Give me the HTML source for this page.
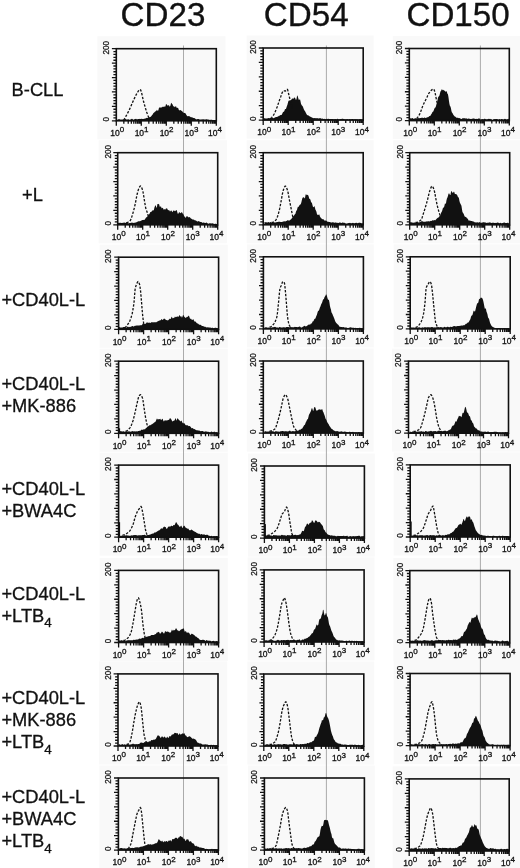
<!DOCTYPE html><html><head><meta charset="utf-8"><style>html,body{margin:0;padding:0;background:#fff;}svg{display:block;filter:blur(0.3px);}text{font-family:"Liberation Sans",sans-serif;fill:#111;}.hd{font-size:33.2px;stroke:#111;stroke-width:0.35px;}.rl{font-size:18.3px;stroke:#111;stroke-width:0.3px;}.yl{font-size:8.2px;stroke:#111;stroke-width:0.25px;}.xl{font-size:8.5px;stroke:#111;stroke-width:0.3px;}.sup{font-size:8px;}.sub{font-size:13.5px;}</style></head><body>
<svg width="520" height="868" viewBox="0 0 520 868">
<rect width="520" height="868" fill="#fff"/>
<text class="hd" x="163" y="25.6" text-anchor="middle">CD23</text>
<text class="hd" x="306.3" y="25.6" text-anchor="middle">CD54</text>
<text class="hd" x="458.1" y="25.6" text-anchor="middle">CD150</text>
<text class="rl" x="11.6" y="95.5">B-CLL</text>
<text class="rl" x="22.0" y="201.3">+L</text>
<text class="rl" x="1.4" y="305.7">+CD40L-L</text>
<text class="rl" x="1.4" y="389.6">+CD40L-L</text>
<text class="rl" x="1.4" y="411.6">+MK-886</text>
<text class="rl" x="1.4" y="494.5">+CD40L-L</text>
<text class="rl" x="1.4" y="516.5">+BWA4C</text>
<text class="rl" x="1.4" y="599.5">+CD40L-L</text>
<text class="rl" x="1.4" y="621.5">+LTB<tspan class="sub" dy="5.5">4</tspan></text>
<text class="rl" x="1.4" y="704.4">+CD40L-L</text>
<text class="rl" x="1.4" y="726.4">+MK-886</text>
<text class="rl" x="1.4" y="748.4">+LTB<tspan class="sub" dy="5.5">4</tspan></text>
<text class="rl" x="1.4" y="803.3">+CD40L-L</text>
<text class="rl" x="1.4" y="825.3">+BWA4C</text>
<text class="rl" x="1.4" y="847.3">+LTB<tspan class="sub" dy="5.5">4</tspan></text>
<rect x="97.3" y="36.2" width="128.2" height="103.1" fill="#f9f9f9"/>
<rect x="246.7" y="35.5" width="126.9" height="103.1" fill="#f9f9f9"/>
<rect x="392.8" y="36" width="127.2" height="103.1" fill="#f9f9f9"/>
<rect x="98.7" y="140.2" width="128.2" height="103.1" fill="#f9f9f9"/>
<rect x="246.7" y="140.2" width="126.9" height="103.1" fill="#f9f9f9"/>
<rect x="393.2" y="140.2" width="126.8" height="103.1" fill="#f9f9f9"/>
<rect x="99.6" y="244.7" width="128.2" height="103.1" fill="#f9f9f9"/>
<rect x="246.9" y="244.3" width="126.9" height="103.1" fill="#f9f9f9"/>
<rect x="393.7" y="244.3" width="126.3" height="103.1" fill="#f9f9f9"/>
<rect x="99.6" y="348.7" width="128.2" height="103.1" fill="#f9f9f9"/>
<rect x="246.8" y="348.5" width="126.9" height="103.1" fill="#f9f9f9"/>
<rect x="392" y="348.6" width="128" height="103.1" fill="#f9f9f9"/>
<rect x="99.6" y="452.6" width="128.2" height="103.1" fill="#f9f9f9"/>
<rect x="247.9" y="453.5" width="126.9" height="103.1" fill="#f9f9f9"/>
<rect x="393.7" y="452.4" width="126.3" height="103.1" fill="#f9f9f9"/>
<rect x="99.6" y="557.9" width="128.2" height="103.1" fill="#f9f9f9"/>
<rect x="247.6" y="557.4" width="126.9" height="103.1" fill="#f9f9f9"/>
<rect x="393.3" y="558.1" width="126.7" height="103.1" fill="#f9f9f9"/>
<rect x="99" y="661.4" width="128.2" height="103.1" fill="#f9f9f9"/>
<rect x="247.3" y="661.5" width="126.9" height="103.1" fill="#f9f9f9"/>
<rect x="393.6" y="661" width="126.4" height="103.1" fill="#f9f9f9"/>
<rect x="99.4" y="765.5" width="128.2" height="103.1" fill="#f9f9f9"/>
<rect x="247.9" y="765.5" width="126.9" height="103.1" fill="#f9f9f9"/>
<rect x="392.7" y="766.4" width="127.3" height="103.1" fill="#f9f9f9"/>
<line x1="183.5" y1="45.5" x2="183.5" y2="849" stroke="#ababab" stroke-width="1"/>
<line x1="326.4" y1="45.5" x2="326.4" y2="849" stroke="#ababab" stroke-width="1"/>
<line x1="480.4" y1="45.5" x2="480.4" y2="849" stroke="#ababab" stroke-width="1"/>
<g transform="translate(116.3,48.7)">
<path d="M0.14,72.1 L0.14,71.02 0.64,71.27 1.14,71.05 1.64,70.67 2.14,70.66 2.64,70.64 3.14,70.59 3.64,70.67 4.14,70.79 4.64,70.94 5.14,70.88 5.64,70.72 6.14,70.71 6.64,70.83 7.14,70.88 7.64,70.72 8.14,70.55 8.64,70.22 9.14,70.09 9.64,70.55 10.14,70.74 10.64,70.74 11.14,70.81 11.64,70.53 12.14,70.44 12.64,70.7 13.14,70.99 13.64,71.02 14.14,70.79 14.64,70.59 15.14,70.27 15.64,70.1 16.14,70.35 16.64,70.7 17.14,70.94 17.64,70.89 18.14,70.59 18.64,70.38 19.14,70.21 19.64,70.03 20.14,70.27 20.64,70.69 21.14,70.56 21.64,70.25 22.14,70.27 22.64,70.33 23.14,70.18 23.64,70.13 24.14,70.23 24.64,70.29 25.14,70.15 25.64,70.02 26.14,70.18 26.64,70.3 27.14,70.26 27.64,70.15 28.14,69.96 28.64,69.82 29.14,69.72 29.64,69.59 30.14,69.32 30.64,69.13 31.14,69.19 31.64,68.96 32.14,68.68 32.64,68.62 33.14,68.43 33.64,68.31 34.14,68.23 34.64,67.92 35.14,67.37 35.64,66.56 36.14,65.96 36.64,65.23 37.14,64.4 37.64,63.93 38.14,63.64 38.64,63.06 39.14,62.51 39.64,62.59 40.14,61.86 40.64,60.94 41.14,61.76 41.64,62.3 42.14,61.18 42.64,59.39 43.14,58.66 43.64,58.95 44.14,58.91 44.64,58.9 45.14,58.78 45.64,58.53 46.14,58.29 46.64,57.86 47.14,57.98 47.64,58.32 48.14,57.69 48.64,57.75 49.14,57.7 49.64,55.65 50.14,55.27 50.64,56.23 51.14,56.64 51.64,57.32 52.14,56.46 52.64,56.24 53.14,57.83 53.64,57.88 54.14,56.71 54.64,54.82 55.14,54.09 55.64,55.08 56.14,55.47 56.64,56.82 57.14,57.72 57.64,57.51 58.14,58.01 58.64,58.52 59.14,57.88 59.64,57.41 60.14,58.62 60.64,59.48 61.14,59 61.64,58.99 62.14,60.14 62.64,61.49 63.14,61.74 63.64,61.25 64.14,61.25 64.64,61.69 65.14,61.96 65.64,62.23 66.14,62.78 66.64,63.59 67.14,64.02 67.64,64.16 68.14,64.32 68.64,64.21 69.14,64.59 69.64,65.58 70.14,66.28 70.64,67 71.14,67.66 71.64,67.53 72.14,67.38 72.64,67.58 73.14,67.58 73.64,67.75 74.14,68.3 74.64,68.63 75.14,68.49 75.64,68.5 76.14,68.76 76.64,69.08 77.14,69.37 77.64,69.33 78.14,69.39 78.64,69.7 79.14,70.16 79.64,70.66 80.14,70.72 80.64,70.4 81.14,70.32 81.64,70.46 82.14,70.29 82.64,70.31 83.14,70.72 83.64,70.9 84.14,70.9 84.64,70.92 85.14,70.85 85.64,70.6 86.14,70.58 86.64,70.75 87.14,70.67 87.64,70.61 88.14,70.73 88.64,70.83 89.14,70.74 89.64,70.61 90.14,70.53 90.64,70.59 91.14,70.79 91.64,70.71 92.14,70.73 92.64,70.94 93.14,71.14 93.64,71.25 94.14,71.1 94.64,71.12 95.14,71.13 95.64,71.07 96.14,71.24 96.64,71.38 97.14,71.5 97.64,71.5 98.14,71.5 98.64,71.5 99.14,71.43 99.64,71.44 L99.64,72.1Z" fill="#111"/>
<polyline points="7.33,71.43 7.83,70.64 8.33,69.83 8.83,68.99 9.33,68.12 9.83,67.23 10.33,66.32 10.83,65.39 11.33,64.44 11.83,63.47 12.33,62.49 12.83,61.48 13.33,60.41 13.83,59.3 14.33,58.15 14.83,56.98 15.33,55.81 15.83,54.65 16.33,53.51 16.83,52.43 17.33,51.35 17.83,50.26 18.33,49.16 18.83,48.08 19.33,47.03 19.83,46.04 20.33,45.12 20.83,44.29 21.33,43.55 21.83,42.77 22.33,42.01 22.83,41.37 23.33,40.91 23.83,40.74 24.33,41.21 24.83,42.46 25.33,44.28 25.83,46.47 26.33,48.81 26.83,51.09 27.33,53.1 27.83,54.84 28.33,56.59 28.83,58.34 29.33,60.05 29.83,61.69 30.33,63.24 30.83,64.68 31.33,66.05 31.83,67.35 32.33,68.53 32.83,69.53 33.33,70.41 33.83,71.17" fill="none" stroke="#111" stroke-width="1.3" stroke-dasharray="2.4 1.5"/>
<rect x="0" y="0" width="100" height="72.1" fill="none" stroke="#111" stroke-width="1.6"/>
<path d="M-4.4,72.1H0 M-2.9,69.22H0 M-2.9,66.33H0 M-2.9,63.45H0 M-2.9,60.56H0 M-4.4,57.68H0 M-2.9,54.8H0 M-2.9,51.91H0 M-2.9,49.03H0 M-2.9,46.14H0 M-4.4,43.26H0 M-2.9,40.38H0 M-2.9,37.49H0 M-2.9,34.61H0 M-2.9,31.72H0 M-4.4,28.84H0 M-2.9,25.96H0 M-2.9,23.07H0 M-2.9,20.19H0 M-2.9,17.3H0 M-4.4,14.42H0 M-2.9,11.54H0 M-2.9,8.65H0 M-2.9,5.77H0 M-2.9,2.88H0 M-4.4,0H0" stroke="#111" stroke-width="1.3"/>
<path d="M0,72.1V77.1 M7.53,72.1V75.1 M11.93,72.1V75.1 M15.05,72.1V75.1 M17.47,72.1V75.1 M19.45,72.1V75.1 M21.13,72.1V75.1 M22.58,72.1V75.1 M23.86,72.1V75.1 M25,72.1V77.1 M32.53,72.1V75.1 M36.93,72.1V75.1 M40.05,72.1V75.1 M42.47,72.1V75.1 M44.45,72.1V75.1 M46.13,72.1V75.1 M47.58,72.1V75.1 M48.86,72.1V75.1 M50,72.1V77.1 M57.53,72.1V75.1 M61.93,72.1V75.1 M65.05,72.1V75.1 M67.47,72.1V75.1 M69.45,72.1V75.1 M71.13,72.1V75.1 M72.58,72.1V75.1 M73.86,72.1V75.1 M75,72.1V77.1 M82.53,72.1V75.1 M86.93,72.1V75.1 M90.05,72.1V75.1 M92.47,72.1V75.1 M94.45,72.1V75.1 M96.13,72.1V75.1 M97.58,72.1V75.1 M98.86,72.1V75.1 M100,72.1V77.1" stroke="#111" stroke-width="1.3"/>
<text class="yl" transform="translate(-7.2,-1) rotate(-90)" text-anchor="middle">200</text>
<text class="yl" transform="translate(-7.2,70.6) rotate(-90)" text-anchor="middle">0</text>
<text class="xl" x="1" y="87.4" text-anchor="middle">10<tspan class="sup" dy="-3.9">0</tspan></text>
<text class="xl" x="25.3" y="87.4" text-anchor="middle">10<tspan class="sup" dy="-3.9">1</tspan></text>
<text class="xl" x="50.3" y="87.4" text-anchor="middle">10<tspan class="sup" dy="-3.9">2</tspan></text>
<text class="xl" x="75.1" y="87.4" text-anchor="middle">10<tspan class="sup" dy="-3.9">3</tspan></text>
<text class="xl" x="98.7" y="87.4" text-anchor="middle">10<tspan class="sup" dy="-3.9">4</tspan></text>
</g>
<g transform="translate(263.2,48)">
<path d="M0.24,72.1 L0.24,70.24 0.74,70.33 1.24,70.34 1.74,70.29 2.24,70.51 2.74,70.5 3.24,70.4 3.74,70.53 4.24,70.44 4.74,70.07 5.24,70.03 5.74,70.29 6.24,70.33 6.74,70.1 7.24,69.96 7.74,69.96 8.24,70.08 8.74,70.06 9.24,69.94 9.74,70.11 10.24,70.14 10.74,69.98 11.24,69.76 11.74,69.43 12.24,69.18 12.74,69.01 13.24,69 13.74,68.94 14.24,68.65 14.74,68.39 15.24,68.14 15.74,67.86 16.24,67.69 16.74,67.45 17.24,67.09 17.74,67.08 18.24,67.09 18.74,66.38 19.24,65.2 19.74,64.13 20.24,63.84 20.74,63.86 21.24,62.68 21.74,61.19 22.24,61.11 22.74,61.04 23.24,59.52 23.74,57.99 24.24,56.64 24.74,54.65 25.24,53.06 25.74,52.55 26.24,52.6 26.74,52.78 27.24,52.8 27.74,52.21 28.24,51.61 28.74,50.85 29.24,50.34 29.74,50.98 30.24,50.68 30.74,49.73 31.24,49.56 31.74,49.72 32.24,50.72 32.74,52.08 33.24,51.34 33.74,48.39 34.24,47.36 34.74,48.92 35.24,50.81 35.74,52.26 36.24,51.8 36.74,51.03 37.24,53.05 37.74,55.59 38.24,56.76 38.74,57.53 39.24,58 39.74,58.87 40.24,60.29 40.74,61.52 41.24,62.41 41.74,63.07 42.24,63.89 42.74,64.98 43.24,65.95 43.74,66.77 44.24,67.23 44.74,67.3 45.24,67.39 45.74,67.75 46.24,68.23 46.74,68.5 47.24,68.69 47.74,68.92 48.24,69.2 48.74,69.51 49.24,69.77 49.74,70.07 50.24,70.22 50.74,70.11 51.24,69.99 51.74,70.17 52.24,70.28 52.74,70.12 53.24,70.15 53.74,70.17 54.24,70.12 54.74,70.38 55.24,70.5 55.74,70.37 56.24,70.31 56.74,70.25 57.24,70.22 57.74,70.34 58.24,70.68 58.74,70.8 59.24,70.62 59.74,70.68 60.24,71.1 60.74,71.1 61.24,70.77 61.74,71.06 62.24,71.33 62.74,71.01 63.24,70.8 63.74,70.96 64.24,70.92 64.74,70.69 65.24,70.71 65.74,71.01 66.24,71.1 66.74,70.97 67.24,70.9 67.74,70.88 68.24,71.03 68.74,71.05 69.24,70.95 69.74,71.04 70.24,71.22 70.74,71.28 71.24,71.19 71.74,71.1 72.24,71.1 72.74,71.17 73.24,71.19 73.74,71.15 74.24,70.81 74.74,70.65 75.24,71.22 75.74,71.5 76.24,71.33 76.74,71.07 77.24,71.01 77.74,71.03 78.24,70.95 78.74,70.81 79.24,70.78 79.74,70.86 80.24,71 80.74,71.1 81.24,71.13 81.74,71.19 82.24,71.28 82.74,71.43 83.24,71.35 83.74,70.89 84.24,70.88 84.74,71.45 85.24,71.5 85.74,71.3 86.24,71.07 86.74,71.2 87.24,71.31 87.74,71.25 88.24,71.19 88.74,71 89.24,70.88 89.74,71.11 90.24,71.37 90.74,71.4 91.24,71.17 91.74,71.05 92.24,71.19 92.74,71.25 93.24,71.19 93.74,71.25 94.24,71.37 94.74,71.49 95.24,71.5 95.74,71.5 96.24,71.21 96.74,70.94 97.24,71.13 97.74,71.34 98.24,71.42 98.74,71.37 99.24,71.23 99.74,71.2 L99.74,72.1Z" fill="#111"/>
<polyline points="7.43,70.5 7.93,70.1 8.43,69.6 8.93,69.03 9.43,68.39 9.93,67.69 10.43,66.93 10.93,66.04 11.43,65.04 11.93,63.94 12.43,62.78 12.93,61.58 13.43,60.36 13.93,59.06 14.43,57.64 14.93,56.16 15.43,54.65 15.93,53.15 16.43,51.7 16.93,50.34 17.43,49.06 17.93,47.63 18.43,46.17 18.93,44.81 19.43,43.7 19.93,42.97 20.43,42.77 20.93,42.83 21.43,42.92 21.93,42.98 22.43,42.82 22.93,42.32 23.43,41.74 23.93,41.34 24.43,41.68 24.93,43.6 25.43,45.81 25.93,47.87 26.43,50.01 26.93,51.96 27.43,53.73 27.93,55.6 28.43,57.77 28.93,60.15" fill="none" stroke="#111" stroke-width="1.3" stroke-dasharray="2.4 1.5"/>
<rect x="0" y="0" width="100" height="72.1" fill="none" stroke="#111" stroke-width="1.6"/>
<path d="M-4.4,72.1H0 M-2.9,69.22H0 M-2.9,66.33H0 M-2.9,63.45H0 M-2.9,60.56H0 M-4.4,57.68H0 M-2.9,54.8H0 M-2.9,51.91H0 M-2.9,49.03H0 M-2.9,46.14H0 M-4.4,43.26H0 M-2.9,40.38H0 M-2.9,37.49H0 M-2.9,34.61H0 M-2.9,31.72H0 M-4.4,28.84H0 M-2.9,25.96H0 M-2.9,23.07H0 M-2.9,20.19H0 M-2.9,17.3H0 M-4.4,14.42H0 M-2.9,11.54H0 M-2.9,8.65H0 M-2.9,5.77H0 M-2.9,2.88H0 M-4.4,0H0" stroke="#111" stroke-width="1.3"/>
<path d="M0,72.1V77.1 M7.53,72.1V75.1 M11.93,72.1V75.1 M15.05,72.1V75.1 M17.47,72.1V75.1 M19.45,72.1V75.1 M21.13,72.1V75.1 M22.58,72.1V75.1 M23.86,72.1V75.1 M25,72.1V77.1 M32.53,72.1V75.1 M36.93,72.1V75.1 M40.05,72.1V75.1 M42.47,72.1V75.1 M44.45,72.1V75.1 M46.13,72.1V75.1 M47.58,72.1V75.1 M48.86,72.1V75.1 M50,72.1V77.1 M57.53,72.1V75.1 M61.93,72.1V75.1 M65.05,72.1V75.1 M67.47,72.1V75.1 M69.45,72.1V75.1 M71.13,72.1V75.1 M72.58,72.1V75.1 M73.86,72.1V75.1 M75,72.1V77.1 M82.53,72.1V75.1 M86.93,72.1V75.1 M90.05,72.1V75.1 M92.47,72.1V75.1 M94.45,72.1V75.1 M96.13,72.1V75.1 M97.58,72.1V75.1 M98.86,72.1V75.1 M100,72.1V77.1" stroke="#111" stroke-width="1.3"/>
<text class="yl" transform="translate(-7.2,-1) rotate(-90)" text-anchor="middle">200</text>
<text class="yl" transform="translate(-7.2,70.6) rotate(-90)" text-anchor="middle">0</text>
<text class="xl" x="1" y="87.4" text-anchor="middle">10<tspan class="sup" dy="-3.9">0</tspan></text>
<text class="xl" x="25.3" y="87.4" text-anchor="middle">10<tspan class="sup" dy="-3.9">1</tspan></text>
<text class="xl" x="50.3" y="87.4" text-anchor="middle">10<tspan class="sup" dy="-3.9">2</tspan></text>
<text class="xl" x="75.1" y="87.4" text-anchor="middle">10<tspan class="sup" dy="-3.9">3</tspan></text>
<text class="xl" x="98.7" y="87.4" text-anchor="middle">10<tspan class="sup" dy="-3.9">4</tspan></text>
</g>
<g transform="translate(409.3,48.5)">
<path d="M0.14,72.1 L0.14,69.75 0.64,69.94 1.14,69.73 1.64,69.71 2.14,69.88 2.64,69.69 3.14,69.57 3.64,69.74 4.14,70.18 4.64,70.42 5.14,70.04 5.64,69.75 6.14,69.83 6.64,69.81 7.14,69.9 7.64,69.98 8.14,69.78 8.64,69.64 9.14,69.59 9.64,69.65 10.14,69.66 10.64,69.49 11.14,69.48 11.64,69.5 12.14,69.35 12.64,69.16 13.14,69.15 13.64,69.31 14.14,69.6 14.64,69.56 15.14,69.1 15.64,69.09 16.14,69.39 16.64,69.43 17.14,69.14 17.64,68.77 18.14,68.73 18.64,68.69 19.14,68.52 19.64,68.09 20.14,67.59 20.64,67.6 21.14,67.23 21.64,66.2 22.14,65.51 22.64,64.66 23.14,63.62 23.64,63.23 24.14,62.73 24.64,61.33 25.14,60.03 25.64,59.32 26.14,58.93 26.64,57.83 27.14,55.77 27.64,54.44 28.14,52.19 28.64,49.14 29.14,48.14 29.64,47.81 30.14,46.98 30.64,45.06 31.14,42.89 31.64,42.51 32.14,41.58 32.64,40.59 33.14,41.55 33.64,41.68 34.14,41.25 34.64,41.88 35.14,42.27 35.64,42.19 36.14,43.08 36.64,43.46 37.14,42.29 37.64,43.64 38.14,45.18 38.64,45.79 39.14,48.57 39.64,52.18 40.14,55.46 40.64,57.42 41.14,57.93 41.64,59.68 42.14,62.59 42.64,63.97 43.14,64.46 43.64,65.43 44.14,66.38 44.64,66.99 45.14,67.63 45.64,68.01 46.14,68.23 46.64,68.79 47.14,69.15 47.64,69.29 48.14,69.3 48.64,69.22 49.14,69.59 49.64,69.73 50.14,69.6 50.64,69.76 51.14,70.1 51.64,70.55 52.14,70.59 52.64,70.18 53.14,69.86 53.64,69.82 54.14,69.87 54.64,69.83 55.14,69.79 55.64,69.86 56.14,69.94 56.64,69.92 57.14,69.86 57.64,70.14 58.14,70.41 58.64,70.03 59.14,69.89 59.64,70.15 60.14,70.23 60.64,70.34 61.14,70.54 61.64,70.62 62.14,70.42 62.64,70.25 63.14,70.23 63.64,70.05 64.14,70.07 64.64,70.11 65.14,70.13 65.64,70.32 66.14,70.46 66.64,70.39 67.14,70.26 67.64,70.44 68.14,70.56 68.64,70.33 69.14,70.12 69.64,70.08 70.14,69.9 70.64,70.19 71.14,70.94 71.64,71.1 72.14,70.83 72.64,70.61 73.14,70.62 73.64,70.72 74.14,70.65 74.64,70.52 75.14,70.25 75.64,70.14 76.14,70.46 76.64,70.75 77.14,70.74 77.64,70.73 78.14,70.78 78.64,70.49 79.14,70.35 79.64,70.55 80.14,70.43 80.64,70.28 81.14,70.53 81.64,70.73 82.14,70.73 82.64,71.07 83.14,71.47 83.64,71.26 84.14,70.76 84.64,70.39 85.14,70.54 85.64,70.73 86.14,70.51 86.64,70.43 87.14,70.56 87.64,70.52 88.14,70.57 88.64,70.89 89.14,71 89.64,70.75 90.14,70.6 90.64,70.75 91.14,70.88 91.64,70.68 92.14,70.38 92.64,70.46 93.14,70.72 93.64,70.86 94.14,70.94 94.64,70.75 95.14,70.42 95.64,70.28 96.14,70.5 96.64,70.87 97.14,70.89 97.64,70.85 98.14,70.85 98.64,70.56 99.14,70.35 99.64,70.43 L99.64,72.1Z" fill="#111"/>
<polyline points="7.33,70 7.83,69.5 8.33,68.9 8.83,68.21 9.33,67.43 9.83,66.57 10.33,65.67 10.83,64.66 11.33,63.42 11.83,62.03 12.33,60.55 12.83,59.09 13.33,57.72 13.83,56.53 14.33,55.45 14.83,54.43 15.33,53.46 15.83,52.5 16.33,51.55 16.83,50.56 17.33,49.52 17.83,48.4 18.33,47.27 18.83,46.2 19.33,45.23 19.83,44.43 20.33,43.8 20.83,43.19 21.33,42.6 21.83,42.05 22.33,41.55 22.83,41.14 23.33,40.83 23.83,40.63 24.33,40.59 24.83,41.34 25.33,42.82 25.83,44.52 26.33,46.93 26.83,49.67 27.33,52.02 27.83,54.21 28.33,56.27" fill="none" stroke="#111" stroke-width="1.3" stroke-dasharray="2.4 1.5"/>
<rect x="0" y="0" width="100" height="72.1" fill="none" stroke="#111" stroke-width="1.6"/>
<path d="M-4.4,72.1H0 M-2.9,69.22H0 M-2.9,66.33H0 M-2.9,63.45H0 M-2.9,60.56H0 M-4.4,57.68H0 M-2.9,54.8H0 M-2.9,51.91H0 M-2.9,49.03H0 M-2.9,46.14H0 M-4.4,43.26H0 M-2.9,40.38H0 M-2.9,37.49H0 M-2.9,34.61H0 M-2.9,31.72H0 M-4.4,28.84H0 M-2.9,25.96H0 M-2.9,23.07H0 M-2.9,20.19H0 M-2.9,17.3H0 M-4.4,14.42H0 M-2.9,11.54H0 M-2.9,8.65H0 M-2.9,5.77H0 M-2.9,2.88H0 M-4.4,0H0" stroke="#111" stroke-width="1.3"/>
<path d="M0,72.1V77.1 M7.53,72.1V75.1 M11.93,72.1V75.1 M15.05,72.1V75.1 M17.47,72.1V75.1 M19.45,72.1V75.1 M21.13,72.1V75.1 M22.58,72.1V75.1 M23.86,72.1V75.1 M25,72.1V77.1 M32.53,72.1V75.1 M36.93,72.1V75.1 M40.05,72.1V75.1 M42.47,72.1V75.1 M44.45,72.1V75.1 M46.13,72.1V75.1 M47.58,72.1V75.1 M48.86,72.1V75.1 M50,72.1V77.1 M57.53,72.1V75.1 M61.93,72.1V75.1 M65.05,72.1V75.1 M67.47,72.1V75.1 M69.45,72.1V75.1 M71.13,72.1V75.1 M72.58,72.1V75.1 M73.86,72.1V75.1 M75,72.1V77.1 M82.53,72.1V75.1 M86.93,72.1V75.1 M90.05,72.1V75.1 M92.47,72.1V75.1 M94.45,72.1V75.1 M96.13,72.1V75.1 M97.58,72.1V75.1 M98.86,72.1V75.1 M100,72.1V77.1" stroke="#111" stroke-width="1.3"/>
<text class="yl" transform="translate(-7.2,-1) rotate(-90)" text-anchor="middle">200</text>
<text class="yl" transform="translate(-7.2,70.6) rotate(-90)" text-anchor="middle">0</text>
<text class="xl" x="1" y="87.4" text-anchor="middle">10<tspan class="sup" dy="-3.9">0</tspan></text>
<text class="xl" x="25.3" y="87.4" text-anchor="middle">10<tspan class="sup" dy="-3.9">1</tspan></text>
<text class="xl" x="50.3" y="87.4" text-anchor="middle">10<tspan class="sup" dy="-3.9">2</tspan></text>
<text class="xl" x="75.1" y="87.4" text-anchor="middle">10<tspan class="sup" dy="-3.9">3</tspan></text>
<text class="xl" x="98.7" y="87.4" text-anchor="middle">10<tspan class="sup" dy="-3.9">4</tspan></text>
</g>
<g transform="translate(117.7,152.7)">
<path d="M-0.26,72.1 L-0.26,69.94 0.24,70.07 0.74,70.21 1.24,70.11 1.74,70.15 2.24,70.2 2.74,70.15 3.24,70.16 3.74,70.33 4.24,70.33 4.74,70.18 5.24,70.27 5.74,70.32 6.24,70.14 6.74,69.97 7.24,70.19 7.74,70.31 8.24,69.87 8.74,69.47 9.24,69.62 9.74,70.21 10.24,70.67 10.74,70.67 11.24,70.5 11.74,70.37 12.24,70.3 12.74,70.18 13.24,70.1 13.74,69.98 14.24,69.89 14.74,69.93 15.24,70.03 15.74,70.19 16.24,70.15 16.74,70 17.24,69.97 17.74,69.92 18.24,69.7 18.74,69.54 19.24,69.27 19.74,68.94 20.24,68.78 20.74,68.66 21.24,68.57 21.74,68.5 22.24,68.46 22.74,68.33 23.24,68.04 23.74,67.82 24.24,67.6 24.74,67.36 25.24,67.36 25.74,67.23 26.24,67.13 26.74,67.21 27.24,66.66 27.74,65.69 28.24,65.01 28.74,64.46 29.24,64.18 29.74,63.89 30.24,63.01 30.74,62.16 31.24,61.91 31.74,61.37 32.24,60.02 32.74,59.26 33.24,59.19 33.74,58.94 34.24,58.3 34.74,57.68 35.24,57.47 35.74,57.7 36.24,56.98 36.74,54.78 37.24,53.59 37.74,52.65 38.24,52.96 38.74,55.23 39.24,54.27 39.74,51.32 40.24,51.34 40.74,51.57 41.24,51.03 41.74,52.72 42.24,54.49 42.74,53.87 43.24,53.47 43.74,55.15 44.24,55.86 44.74,55.13 45.24,55.25 45.74,56.52 46.24,56.93 46.74,56.31 47.24,56.74 47.74,56.68 48.24,55.82 48.74,55.8 49.24,55.62 49.74,56.3 50.24,57.62 50.74,57.66 51.24,57.34 51.74,57.8 52.24,58.68 52.74,58.48 53.24,57.76 53.74,57.77 54.24,58.71 54.74,59.45 55.24,58.43 55.74,57.68 56.24,57.88 56.74,58.11 57.24,58.63 57.74,58.33 58.24,57.47 58.74,57.3 59.24,58.04 59.74,60 60.24,61.38 60.74,60.69 61.24,59.82 61.74,59.63 62.24,59.84 62.74,60.48 63.24,60.39 63.74,59.65 64.24,59.43 64.74,60.33 65.24,61.24 65.74,61.63 66.24,62.76 66.74,63.9 67.24,64.36 67.74,64.95 68.24,64.87 68.74,63.86 69.24,63.39 69.74,63.7 70.24,64.05 70.74,64.66 71.24,64.89 71.74,64.34 72.24,64.45 72.74,65.27 73.24,65.86 73.74,66.05 74.24,66.37 74.74,66.8 75.24,66.85 75.74,66.82 76.24,66.95 76.74,67.21 77.24,67.72 77.74,67.75 78.24,67.64 78.74,68.2 79.24,68.61 79.74,68.77 80.24,68.72 80.74,68.42 81.24,68.56 81.74,68.9 82.24,69.11 82.74,69.29 83.24,69.23 83.74,69.24 84.24,69.7 84.74,70.04 85.24,69.95 85.74,69.77 86.24,69.88 86.74,70.15 87.24,70.34 87.74,70.35 88.24,70.1 88.74,69.89 89.24,70.09 89.74,70.45 90.24,70.79 90.74,70.94 91.24,70.74 91.74,70.57 92.24,70.53 92.74,70.6 93.24,70.81 93.74,70.83 94.24,70.65 94.74,70.57 95.24,70.68 95.74,70.92 96.24,71.22 96.74,71.18 97.24,71.03 97.74,71.14 98.24,71.12 98.74,71.23 99.24,71.33 L99.24,72.1Z" fill="#111"/>
<polyline points="4.82,70.8 5.32,70.79 5.82,70.75 6.32,70.69 6.82,70.61 7.32,70.5 7.82,70.37 8.32,70.22 8.82,70.05 9.32,69.85 9.82,69.63 10.32,69.39 10.82,69.12 11.32,68.83 11.82,68.52 12.32,68.18 12.82,67.5 13.32,66.41 13.82,65.01 14.32,63.42 14.82,61.72 15.32,60.04 15.82,58.33 16.32,56.42 16.82,54.35 17.32,52.18 17.82,49.86 18.32,47.22 18.82,44.5 19.32,42.02 19.82,40.02 20.32,38.19 20.82,36.53 21.32,35.19 21.82,34.29 22.32,33.62 22.82,33.34 23.32,33.69 23.82,34.57 24.32,35.83 24.82,37.28 25.32,39.23 25.82,42.13 26.32,45.35 26.82,48.35 27.32,51.49 27.82,54.36 28.32,56.36 28.82,57.76 29.32,59.05 29.82,60.65 30.32,62.59 30.82,64.58 31.32,66.32 31.82,67.84 32.32,69.24 32.82,70.49" fill="none" stroke="#111" stroke-width="1.3" stroke-dasharray="2.4 1.5"/>
<rect x="0" y="0" width="100" height="72.1" fill="none" stroke="#111" stroke-width="1.6"/>
<path d="M-4.4,72.1H0 M-2.9,69.22H0 M-2.9,66.33H0 M-2.9,63.45H0 M-2.9,60.56H0 M-4.4,57.68H0 M-2.9,54.8H0 M-2.9,51.91H0 M-2.9,49.03H0 M-2.9,46.14H0 M-4.4,43.26H0 M-2.9,40.38H0 M-2.9,37.49H0 M-2.9,34.61H0 M-2.9,31.72H0 M-4.4,28.84H0 M-2.9,25.96H0 M-2.9,23.07H0 M-2.9,20.19H0 M-2.9,17.3H0 M-4.4,14.42H0 M-2.9,11.54H0 M-2.9,8.65H0 M-2.9,5.77H0 M-2.9,2.88H0 M-4.4,0H0" stroke="#111" stroke-width="1.3"/>
<path d="M0,72.1V77.1 M7.53,72.1V75.1 M11.93,72.1V75.1 M15.05,72.1V75.1 M17.47,72.1V75.1 M19.45,72.1V75.1 M21.13,72.1V75.1 M22.58,72.1V75.1 M23.86,72.1V75.1 M25,72.1V77.1 M32.53,72.1V75.1 M36.93,72.1V75.1 M40.05,72.1V75.1 M42.47,72.1V75.1 M44.45,72.1V75.1 M46.13,72.1V75.1 M47.58,72.1V75.1 M48.86,72.1V75.1 M50,72.1V77.1 M57.53,72.1V75.1 M61.93,72.1V75.1 M65.05,72.1V75.1 M67.47,72.1V75.1 M69.45,72.1V75.1 M71.13,72.1V75.1 M72.58,72.1V75.1 M73.86,72.1V75.1 M75,72.1V77.1 M82.53,72.1V75.1 M86.93,72.1V75.1 M90.05,72.1V75.1 M92.47,72.1V75.1 M94.45,72.1V75.1 M96.13,72.1V75.1 M97.58,72.1V75.1 M98.86,72.1V75.1 M100,72.1V77.1" stroke="#111" stroke-width="1.3"/>
<text class="yl" transform="translate(-7.2,-1) rotate(-90)" text-anchor="middle">200</text>
<text class="yl" transform="translate(-7.2,70.6) rotate(-90)" text-anchor="middle">0</text>
<text class="xl" x="1" y="87.4" text-anchor="middle">10<tspan class="sup" dy="-3.9">0</tspan></text>
<text class="xl" x="25.3" y="87.4" text-anchor="middle">10<tspan class="sup" dy="-3.9">1</tspan></text>
<text class="xl" x="50.3" y="87.4" text-anchor="middle">10<tspan class="sup" dy="-3.9">2</tspan></text>
<text class="xl" x="75.1" y="87.4" text-anchor="middle">10<tspan class="sup" dy="-3.9">3</tspan></text>
<text class="xl" x="98.7" y="87.4" text-anchor="middle">10<tspan class="sup" dy="-3.9">4</tspan></text>
</g>
<g transform="translate(263.2,152.7)">
<path d="M1.24,72.1 L1.24,69.43 1.74,69.25 2.24,69.5 2.74,69.66 3.24,69.66 3.74,69.8 4.24,69.75 4.74,69.48 5.24,69.4 5.74,69.59 6.24,69.82 6.74,69.71 7.24,69.35 7.74,69.37 8.24,69.79 8.74,69.95 9.24,69.65 9.74,69.52 10.24,69.64 10.74,69.62 11.24,69.74 11.74,69.88 12.24,69.71 12.74,69.56 13.24,69.48 13.74,69.3 14.24,69.2 14.74,69.18 15.24,69.16 15.74,69.15 16.24,69.13 16.74,69.14 17.24,69.18 17.74,69.2 18.24,69.31 18.74,69.22 19.24,69 19.74,69.06 20.24,68.89 20.74,68.6 21.24,68.65 21.74,68.81 22.24,68.71 22.74,68.41 23.24,68.32 23.74,68.1 24.24,67.61 24.74,67.53 25.24,67.81 25.74,67.91 26.24,67.76 26.74,67.43 27.24,66.98 27.74,66.66 28.24,66.2 28.74,65.29 29.24,64.69 29.74,64.02 30.24,63.24 30.74,62.95 31.24,61.99 31.74,61.49 32.24,61.16 32.74,58.98 33.24,57.76 33.74,57.44 34.24,55.37 34.74,54.1 35.24,54.2 35.74,53.63 36.24,52.63 36.74,52.05 37.24,51.92 37.74,51.13 38.24,49.23 38.74,47.11 39.24,45.25 39.74,44.72 40.24,44.85 40.74,44.34 41.24,45.52 41.74,45.66 42.24,42.84 42.74,41.37 43.24,42.03 43.74,42.44 44.24,41.98 44.74,42.22 45.24,43.11 45.74,44.85 46.24,46.3 46.74,46.21 47.24,47.15 47.74,49.16 48.24,49.86 48.74,50.3 49.24,52.28 49.74,53.94 50.24,54.53 50.74,53.99 51.24,53.38 51.74,55.01 52.24,57.14 52.74,57.86 53.24,59.02 53.74,61.21 54.24,62.11 54.74,62.24 55.24,62.39 55.74,61.62 56.24,62.08 56.74,63.76 57.24,64.63 57.74,65.22 58.24,65.7 58.74,66.02 59.24,66.45 59.74,66.48 60.24,66.48 60.74,67.01 61.24,67.68 61.74,67.93 62.24,67.79 62.74,67.89 63.24,68.17 63.74,68.57 64.24,69.01 64.74,69.05 65.24,69 65.74,69.24 66.24,69.37 66.74,69.26 67.24,69.47 67.74,69.89 68.24,69.92 68.74,69.71 69.24,69.63 69.74,69.57 70.24,69.62 70.74,69.95 71.24,70.09 71.74,69.89 72.24,69.68 72.74,69.79 73.24,70.07 73.74,70.08 74.24,70.03 74.74,70.2 75.24,70.24 75.74,70 76.24,69.86 76.74,69.8 77.24,69.91 77.74,70.23 78.24,70.36 78.74,70.17 79.24,69.89 79.74,69.88 80.24,70.05 80.74,70.14 81.24,70.14 81.74,70.18 82.24,70.47 82.74,70.8 83.24,70.88 83.74,70.73 84.24,70.53 84.74,70.44 85.24,70.4 85.74,70.41 86.24,70.29 86.74,70.14 87.24,70.23 87.74,70.44 88.24,70.48 88.74,70.31 89.24,70.18 89.74,70.15 90.24,70.25 90.74,70.51 91.24,70.51 91.74,70.4 92.24,70.24 92.74,69.96 93.24,69.99 93.74,70.41 94.24,70.58 94.74,70.28 95.24,70.17 95.74,70.18 96.24,69.94 96.74,69.91 97.24,70.18 97.74,70.34 98.24,70.49 98.74,70.67 99.24,70.58 99.74,70.63 100.24,70.93 100.74,70.75 L100.74,72.1Z" fill="#111"/>
<polyline points="8.43,69.8 8.93,69.75 9.43,69.62 9.93,69.41 10.43,69.14 10.93,68.8 11.43,68.4 11.93,67.96 12.43,67.49 12.93,66.93 13.43,66.06 13.93,64.9 14.43,63.5 14.93,61.92 15.43,60.22 15.93,58.44 16.43,56.26 16.93,53.68 17.43,50.95 17.93,48.31 18.43,45.62 18.93,42.78 19.43,40.14 19.93,38.05 20.43,36.58 20.93,35.22 21.43,34.12 21.93,33.48 22.43,33.48 22.93,34.12 23.43,35.22 23.93,36.58 24.43,38.05 24.93,40.14 25.43,42.78 25.93,45.62 26.43,48.31 26.93,50.81 27.43,53.31 27.93,55.81 28.43,58.38 28.93,61.08 29.43,63.47 29.93,65.3 30.43,66.76" fill="none" stroke="#111" stroke-width="1.3" stroke-dasharray="2.4 1.5"/>
<rect x="0" y="0" width="100" height="72.1" fill="none" stroke="#111" stroke-width="1.6"/>
<path d="M-4.4,72.1H0 M-2.9,69.22H0 M-2.9,66.33H0 M-2.9,63.45H0 M-2.9,60.56H0 M-4.4,57.68H0 M-2.9,54.8H0 M-2.9,51.91H0 M-2.9,49.03H0 M-2.9,46.14H0 M-4.4,43.26H0 M-2.9,40.38H0 M-2.9,37.49H0 M-2.9,34.61H0 M-2.9,31.72H0 M-4.4,28.84H0 M-2.9,25.96H0 M-2.9,23.07H0 M-2.9,20.19H0 M-2.9,17.3H0 M-4.4,14.42H0 M-2.9,11.54H0 M-2.9,8.65H0 M-2.9,5.77H0 M-2.9,2.88H0 M-4.4,0H0" stroke="#111" stroke-width="1.3"/>
<path d="M0,72.1V77.1 M7.53,72.1V75.1 M11.93,72.1V75.1 M15.05,72.1V75.1 M17.47,72.1V75.1 M19.45,72.1V75.1 M21.13,72.1V75.1 M22.58,72.1V75.1 M23.86,72.1V75.1 M25,72.1V77.1 M32.53,72.1V75.1 M36.93,72.1V75.1 M40.05,72.1V75.1 M42.47,72.1V75.1 M44.45,72.1V75.1 M46.13,72.1V75.1 M47.58,72.1V75.1 M48.86,72.1V75.1 M50,72.1V77.1 M57.53,72.1V75.1 M61.93,72.1V75.1 M65.05,72.1V75.1 M67.47,72.1V75.1 M69.45,72.1V75.1 M71.13,72.1V75.1 M72.58,72.1V75.1 M73.86,72.1V75.1 M75,72.1V77.1 M82.53,72.1V75.1 M86.93,72.1V75.1 M90.05,72.1V75.1 M92.47,72.1V75.1 M94.45,72.1V75.1 M96.13,72.1V75.1 M97.58,72.1V75.1 M98.86,72.1V75.1 M100,72.1V77.1" stroke="#111" stroke-width="1.3"/>
<text class="yl" transform="translate(-7.2,-1) rotate(-90)" text-anchor="middle">200</text>
<text class="yl" transform="translate(-7.2,70.6) rotate(-90)" text-anchor="middle">0</text>
<text class="xl" x="1" y="87.4" text-anchor="middle">10<tspan class="sup" dy="-3.9">0</tspan></text>
<text class="xl" x="25.3" y="87.4" text-anchor="middle">10<tspan class="sup" dy="-3.9">1</tspan></text>
<text class="xl" x="50.3" y="87.4" text-anchor="middle">10<tspan class="sup" dy="-3.9">2</tspan></text>
<text class="xl" x="75.1" y="87.4" text-anchor="middle">10<tspan class="sup" dy="-3.9">3</tspan></text>
<text class="xl" x="98.7" y="87.4" text-anchor="middle">10<tspan class="sup" dy="-3.9">4</tspan></text>
</g>
<g transform="translate(409.7,152.7)">
<path d="M-0.26,72.1 L-0.26,69.62 0.24,69.57 0.74,69.63 1.24,69.57 1.74,69.63 2.24,69.68 2.74,69.87 3.24,70.16 3.74,69.94 4.24,69.86 4.74,69.84 5.24,69.69 5.74,69.79 6.24,69.84 6.74,69.72 7.24,69.43 7.74,69.41 8.24,69.72 8.74,69.74 9.24,69.62 9.74,69.64 10.24,69.48 10.74,69.02 11.24,68.68 11.74,68.63 12.24,68.59 12.74,68.61 13.24,68.83 13.74,69.01 14.24,69.1 14.74,69.1 15.24,68.98 15.74,68.93 16.24,68.87 16.74,68.68 17.24,68.65 17.74,68.7 18.24,68.58 18.74,68.51 19.24,68.67 19.74,68.81 20.24,68.61 20.74,68.27 21.24,68.09 21.74,68.3 22.24,68.16 22.74,67.52 23.24,67.56 23.74,67.85 24.24,67.58 24.74,67.4 25.24,67.67 25.74,67.45 26.24,66.76 26.74,66.2 27.24,65.68 27.74,65.32 28.24,65.13 28.74,64.92 29.24,64.32 29.74,63.56 30.24,63.09 30.74,62.36 31.24,60.76 31.74,59.38 32.24,58.73 32.74,56.97 33.24,55.2 33.74,54.81 34.24,54.8 34.74,53.04 35.24,50.68 35.74,51.17 36.24,50.75 36.74,47.85 37.24,45.89 37.74,44.68 38.24,43.19 38.74,41.42 39.24,40.54 39.74,41.15 40.24,42.34 40.74,42.24 41.24,39.48 41.74,37.93 42.24,39.14 42.74,39.96 43.24,40.11 43.74,39.45 44.24,38.68 44.74,39.76 45.24,41.5 45.74,41.41 46.24,41.19 46.74,41.89 47.24,41.85 47.74,42.99 48.24,44.42 48.74,44.44 49.24,45.67 49.74,48.21 50.24,49.98 50.74,51.04 51.24,51.93 51.74,53.08 52.24,56.35 52.74,59.36 53.24,60.09 53.74,60.82 54.24,61.89 54.74,63.2 55.24,64.16 55.74,64.24 56.24,64.16 56.74,64.77 57.24,65.64 57.74,65.79 58.24,66.33 58.74,67.49 59.24,67.98 59.74,67.9 60.24,67.92 60.74,68.14 61.24,68.41 61.74,68.42 62.24,68.37 62.74,68.66 63.24,68.87 63.74,68.79 64.24,68.93 64.74,69.42 65.24,69.73 65.74,69.63 66.24,69.69 66.74,69.8 67.24,69.48 67.74,69.45 68.24,69.83 68.74,69.99 69.24,69.64 69.74,69.35 70.24,69.7 70.74,69.97 71.24,69.92 71.74,70.07 72.24,70.16 72.74,69.9 73.24,69.52 73.74,69.46 74.24,69.67 74.74,69.74 75.24,69.66 75.74,69.71 76.24,69.98 76.74,70.19 77.24,70.05 77.74,69.94 78.24,70.13 78.74,69.96 79.24,69.69 79.74,69.77 80.24,69.67 80.74,69.81 81.24,70.28 81.74,70.31 82.24,70.02 82.74,69.98 83.24,70 83.74,69.94 84.24,70.1 84.74,70.28 85.24,70.34 85.74,70.2 86.24,70.07 86.74,70.18 87.24,70.11 87.74,69.89 88.24,69.86 88.74,70.03 89.24,70.32 89.74,70.48 90.24,70.3 90.74,70.09 91.24,70.23 91.74,70.54 92.24,70.55 92.74,70.34 93.24,70.32 93.74,70.15 94.24,69.84 94.74,69.91 95.24,70.14 95.74,70.23 96.24,70.24 96.74,70.31 97.24,70.35 97.74,70.13 98.24,70.09 98.74,70.32 99.24,70.44 L99.24,72.1Z" fill="#111"/>
<polyline points="5.88,69.8 6.38,69.77 6.88,69.69 7.38,69.56 7.88,69.39 8.38,69.17 8.88,68.91 9.38,68.61 9.88,68.27 10.38,67.9 10.88,67.5 11.38,67.03 11.88,66.17 12.38,64.95 12.88,63.47 13.38,61.86 13.88,60.23 14.38,58.68 14.88,57.15 15.38,55.56 15.88,53.91 16.38,52.2 16.88,50.46 17.38,48.69 17.88,46.83 18.38,44.76 18.88,42.62 19.38,40.57 19.88,38.76 20.38,37.32 20.88,35.96 21.38,34.69 21.88,33.76 22.38,33.4 22.88,33.73 23.38,34.61 23.88,35.85 24.38,37.29 24.88,39.12 25.38,41.76 25.88,44.54 26.38,47.11 26.88,49.71 27.38,52.11 27.88,54.19 28.38,56.09 28.88,57.87 29.38,59.57 29.88,61.2 30.38,62.74" fill="none" stroke="#111" stroke-width="1.3" stroke-dasharray="2.4 1.5"/>
<rect x="0" y="0" width="100" height="72.1" fill="none" stroke="#111" stroke-width="1.6"/>
<path d="M-4.4,72.1H0 M-2.9,69.22H0 M-2.9,66.33H0 M-2.9,63.45H0 M-2.9,60.56H0 M-4.4,57.68H0 M-2.9,54.8H0 M-2.9,51.91H0 M-2.9,49.03H0 M-2.9,46.14H0 M-4.4,43.26H0 M-2.9,40.38H0 M-2.9,37.49H0 M-2.9,34.61H0 M-2.9,31.72H0 M-4.4,28.84H0 M-2.9,25.96H0 M-2.9,23.07H0 M-2.9,20.19H0 M-2.9,17.3H0 M-4.4,14.42H0 M-2.9,11.54H0 M-2.9,8.65H0 M-2.9,5.77H0 M-2.9,2.88H0 M-4.4,0H0" stroke="#111" stroke-width="1.3"/>
<path d="M0,72.1V77.1 M7.53,72.1V75.1 M11.93,72.1V75.1 M15.05,72.1V75.1 M17.47,72.1V75.1 M19.45,72.1V75.1 M21.13,72.1V75.1 M22.58,72.1V75.1 M23.86,72.1V75.1 M25,72.1V77.1 M32.53,72.1V75.1 M36.93,72.1V75.1 M40.05,72.1V75.1 M42.47,72.1V75.1 M44.45,72.1V75.1 M46.13,72.1V75.1 M47.58,72.1V75.1 M48.86,72.1V75.1 M50,72.1V77.1 M57.53,72.1V75.1 M61.93,72.1V75.1 M65.05,72.1V75.1 M67.47,72.1V75.1 M69.45,72.1V75.1 M71.13,72.1V75.1 M72.58,72.1V75.1 M73.86,72.1V75.1 M75,72.1V77.1 M82.53,72.1V75.1 M86.93,72.1V75.1 M90.05,72.1V75.1 M92.47,72.1V75.1 M94.45,72.1V75.1 M96.13,72.1V75.1 M97.58,72.1V75.1 M98.86,72.1V75.1 M100,72.1V77.1" stroke="#111" stroke-width="1.3"/>
<text class="yl" transform="translate(-7.2,-1) rotate(-90)" text-anchor="middle">200</text>
<text class="yl" transform="translate(-7.2,70.6) rotate(-90)" text-anchor="middle">0</text>
<text class="xl" x="1" y="87.4" text-anchor="middle">10<tspan class="sup" dy="-3.9">0</tspan></text>
<text class="xl" x="25.3" y="87.4" text-anchor="middle">10<tspan class="sup" dy="-3.9">1</tspan></text>
<text class="xl" x="50.3" y="87.4" text-anchor="middle">10<tspan class="sup" dy="-3.9">2</tspan></text>
<text class="xl" x="75.1" y="87.4" text-anchor="middle">10<tspan class="sup" dy="-3.9">3</tspan></text>
<text class="xl" x="98.7" y="87.4" text-anchor="middle">10<tspan class="sup" dy="-3.9">4</tspan></text>
</g>
<g transform="translate(118.6,257.2)">
<path d="M-0.16,72.1 L-0.16,70.16 0.34,69.78 0.84,69.91 1.34,70.35 1.84,70.38 2.34,70.18 2.84,70.24 3.34,70.33 3.84,70.2 4.34,69.99 4.84,69.82 5.34,69.71 5.84,69.74 6.34,69.92 6.84,70.12 7.34,70.32 7.84,70.27 8.34,70.01 8.84,69.52 9.34,69.26 9.84,69.76 10.34,70.01 10.84,69.69 11.34,69.51 11.84,69.62 12.34,69.73 12.84,69.35 13.34,68.85 13.84,68.77 14.34,68.96 14.84,69.35 15.34,69.4 15.84,68.8 16.34,68.51 16.84,68.57 17.34,68.47 17.84,68.39 18.34,68.26 18.84,68.22 19.34,68.22 19.84,68.19 20.34,68.34 20.84,68.26 21.34,68.01 21.84,67.95 22.34,68.01 22.84,67.99 23.34,67.78 23.84,67.01 24.34,66.16 24.84,66.21 25.34,66.63 25.84,66.9 26.34,66.83 26.84,66.54 27.34,66.22 27.84,65.51 28.34,65.08 28.84,65.21 29.34,65.47 29.84,65.59 30.34,65.63 30.84,65.47 31.34,65.34 31.84,65.69 32.34,65.66 32.84,65.08 33.34,64.74 33.84,65 34.34,65.21 34.84,65.13 35.34,65.15 35.84,65.12 36.34,65.09 36.84,65.11 37.34,65.11 37.84,64.95 38.34,64.52 38.84,64.25 39.34,64.14 39.84,63.86 40.34,63.43 40.84,63.25 41.34,63.26 41.84,63.12 42.34,62.92 42.84,62.08 43.34,61.9 43.84,62.85 44.34,62.69 44.84,61.9 45.34,61.66 45.84,61.56 46.34,61.61 46.84,62.28 47.34,62.82 47.84,62.86 48.34,62.95 48.84,63.03 49.34,63.18 49.84,62.89 50.34,62.28 50.84,61.71 51.34,61.29 51.84,61.76 52.34,61.54 52.84,59.89 53.34,59.67 53.84,61.1 54.34,61.16 54.84,60.56 55.34,60.99 55.84,60.39 56.34,59.29 56.84,59.81 57.34,60.05 57.84,59.49 58.34,59.5 58.84,59.3 59.34,59.34 59.84,59.84 60.34,58.72 60.84,57.54 61.34,58.71 61.84,59.58 62.34,58.75 62.84,59.31 63.34,60.46 63.84,59.51 64.34,58 64.84,57.71 65.34,58.69 65.84,59.75 66.34,60.02 66.84,60.54 67.34,60.91 67.84,60.17 68.34,59.6 68.84,59.71 69.34,59.34 69.84,58.45 70.34,58.62 70.84,59.85 71.34,61.29 71.84,61.74 72.34,61.42 72.84,62.05 73.34,62.74 73.84,62.71 74.34,62.17 74.84,62 75.34,63.36 75.84,64.41 76.34,64.31 76.84,64.31 77.34,64.77 77.84,65.6 78.34,66.15 78.84,66.24 79.34,66.34 79.84,66.79 80.34,67.29 80.84,67.43 81.34,67.54 81.84,67.49 82.34,67.68 82.84,68.36 83.34,68.7 83.84,68.68 84.34,68.78 84.84,69.16 85.34,69.38 85.84,69.45 86.34,69.52 86.84,69.66 87.34,70.09 87.84,70.26 88.34,70.03 88.84,70.03 89.34,70.32 89.84,70.35 90.34,70.14 90.84,70.29 91.34,70.5 91.84,70.34 92.34,70.43 92.84,70.73 93.34,70.62 93.84,70.43 94.34,70.67 94.84,70.96 95.34,70.92 95.84,70.77 96.34,70.58 96.84,70.47 97.34,70.62 97.84,70.82 98.34,70.74 98.84,70.75 99.34,71.03 L99.34,72.1Z" fill="#111"/>
<polyline points="5.98,70.3 6.48,70.12 6.98,69.81 7.48,69.37 7.98,68.84 8.48,68.22 8.98,67.53 9.48,66.78 9.98,66.01 10.48,65.19 10.98,64.22 11.48,63.09 11.98,61.78 12.48,60.3 12.98,58.65 13.48,56.8 13.98,54.56 14.48,51.79 14.98,48.49 15.48,44.64 15.98,38.42 16.48,32.27 16.98,29.91 17.48,28.33 17.98,27.12 18.48,25.89 18.98,24.69 19.48,24.41 19.98,24.89 20.48,25.79 20.98,27.13 21.48,30.07 21.98,33.98 22.48,39.42 22.98,45.38 23.48,51.68 23.98,57.36 24.48,61.89 24.98,65.43 25.48,67.93 25.98,69.67 26.48,70.57 26.98,71.11" fill="none" stroke="#111" stroke-width="1.3" stroke-dasharray="2.4 1.5"/>
<rect x="0" y="0" width="100" height="72.1" fill="none" stroke="#111" stroke-width="1.6"/>
<path d="M-4.4,72.1H0 M-2.9,69.22H0 M-2.9,66.33H0 M-2.9,63.45H0 M-2.9,60.56H0 M-4.4,57.68H0 M-2.9,54.8H0 M-2.9,51.91H0 M-2.9,49.03H0 M-2.9,46.14H0 M-4.4,43.26H0 M-2.9,40.38H0 M-2.9,37.49H0 M-2.9,34.61H0 M-2.9,31.72H0 M-4.4,28.84H0 M-2.9,25.96H0 M-2.9,23.07H0 M-2.9,20.19H0 M-2.9,17.3H0 M-4.4,14.42H0 M-2.9,11.54H0 M-2.9,8.65H0 M-2.9,5.77H0 M-2.9,2.88H0 M-4.4,0H0" stroke="#111" stroke-width="1.3"/>
<path d="M0,72.1V77.1 M7.53,72.1V75.1 M11.93,72.1V75.1 M15.05,72.1V75.1 M17.47,72.1V75.1 M19.45,72.1V75.1 M21.13,72.1V75.1 M22.58,72.1V75.1 M23.86,72.1V75.1 M25,72.1V77.1 M32.53,72.1V75.1 M36.93,72.1V75.1 M40.05,72.1V75.1 M42.47,72.1V75.1 M44.45,72.1V75.1 M46.13,72.1V75.1 M47.58,72.1V75.1 M48.86,72.1V75.1 M50,72.1V77.1 M57.53,72.1V75.1 M61.93,72.1V75.1 M65.05,72.1V75.1 M67.47,72.1V75.1 M69.45,72.1V75.1 M71.13,72.1V75.1 M72.58,72.1V75.1 M73.86,72.1V75.1 M75,72.1V77.1 M82.53,72.1V75.1 M86.93,72.1V75.1 M90.05,72.1V75.1 M92.47,72.1V75.1 M94.45,72.1V75.1 M96.13,72.1V75.1 M97.58,72.1V75.1 M98.86,72.1V75.1 M100,72.1V77.1" stroke="#111" stroke-width="1.3"/>
<text class="yl" transform="translate(-7.2,-1) rotate(-90)" text-anchor="middle">200</text>
<text class="yl" transform="translate(-7.2,70.6) rotate(-90)" text-anchor="middle">0</text>
<text class="xl" x="1" y="87.4" text-anchor="middle">10<tspan class="sup" dy="-3.9">0</tspan></text>
<text class="xl" x="25.3" y="87.4" text-anchor="middle">10<tspan class="sup" dy="-3.9">1</tspan></text>
<text class="xl" x="50.3" y="87.4" text-anchor="middle">10<tspan class="sup" dy="-3.9">2</tspan></text>
<text class="xl" x="75.1" y="87.4" text-anchor="middle">10<tspan class="sup" dy="-3.9">3</tspan></text>
<text class="xl" x="98.7" y="87.4" text-anchor="middle">10<tspan class="sup" dy="-3.9">4</tspan></text>
</g>
<g transform="translate(263.4,256.8)">
<path d="M1.04,72.1 L1.04,70.76 1.54,70.63 2.04,70.56 2.54,70.43 3.04,70.47 3.54,70.73 4.04,70.88 4.54,70.73 5.04,70.7 5.54,71.03 6.04,71.04 6.54,70.76 7.04,70.69 7.54,70.66 8.04,70.67 8.54,70.6 9.04,70.44 9.54,70.44 10.04,70.35 10.54,70.3 11.04,70.26 11.54,70.06 12.04,70.17 12.54,70.57 13.04,70.82 13.54,70.76 14.04,70.64 14.54,70.8 15.04,71.03 15.54,70.79 16.04,70.23 16.54,70.11 17.04,70.55 17.54,70.78 18.04,70.71 18.54,70.69 19.04,70.64 19.54,70.57 20.04,70.56 20.54,70.48 21.04,70.56 21.54,70.82 22.04,70.71 22.54,70.36 23.04,70.19 23.54,70.21 24.04,70.23 24.54,70.11 25.04,70.23 25.54,70.5 26.04,70.56 26.54,70.37 27.04,70.21 27.54,70.31 28.04,70.45 28.54,70.48 29.04,70.49 29.54,70.57 30.04,70.54 30.54,70.36 31.04,70.17 31.54,70.04 32.04,70.16 32.54,70.27 33.04,70.15 33.54,70.18 34.04,70.37 34.54,70.28 35.04,70.1 35.54,69.95 36.04,69.65 36.54,69.63 37.04,70.17 37.54,70.69 38.04,70.78 38.54,70.59 39.04,70.13 39.54,69.84 40.04,69.76 40.54,69.24 41.04,68.92 41.54,69.32 42.04,69.58 42.54,69.51 43.04,69.4 43.54,69.13 44.04,68.67 44.54,68.26 45.04,67.99 45.54,67.73 46.04,67.78 46.54,67.93 47.04,67.5 47.54,66.82 48.04,66.61 48.54,66.33 49.04,65.04 49.54,64.38 50.04,64.34 50.54,63.24 51.04,62.24 51.54,62.04 52.04,61.63 52.54,60.31 53.04,58.89 53.54,57.83 54.04,56.03 54.54,54.34 55.04,53.86 55.54,53.63 56.04,52.23 56.54,50.65 57.04,49.61 57.54,48.1 58.04,46.98 58.54,46.13 59.04,44.66 59.54,42.91 60.04,42.56 60.54,42.19 61.04,40.5 61.54,39.82 62.04,39.06 62.54,37.64 63.04,37.7 63.54,39.25 64.04,41.22 64.54,42.69 65.04,42.95 65.54,43.2 66.04,45.6 66.54,49.12 67.04,51.08 67.54,52.78 68.04,55.38 68.54,56.35 69.04,57.24 69.54,58.66 70.04,59.81 70.54,61.03 71.04,62.27 71.54,63.81 72.04,64.92 72.54,65.67 73.04,66.36 73.54,66.82 74.04,67.38 74.54,67.76 75.04,68.16 75.54,68.94 76.04,69.8 76.54,70.18 77.04,70.01 77.54,70.11 78.04,70.29 78.54,70.29 79.04,70.35 79.54,70.17 80.04,70.15 80.54,70.44 81.04,70.68 81.54,70.76 82.04,70.63 82.54,70.63 83.04,70.75 83.54,70.9 84.04,71.09 84.54,71.17 85.04,71.11 85.54,71.06 86.04,70.88 86.54,70.55 87.04,70.57 87.54,70.82 88.04,70.77 88.54,70.84 89.04,71.05 89.54,71.01 90.04,70.88 90.54,70.93 91.04,71.24 91.54,71.32 92.04,71.01 92.54,71.11 93.04,71.42 93.54,71.33 94.04,71.18 94.54,71.26 95.04,71.46 95.54,71.37 96.04,71.01 96.54,71.02 97.04,71.32 97.54,71.45 98.04,71.45 98.54,71.5 99.04,71.5 99.54,71.5 100.04,71.5 100.54,71.41 L100.54,72.1Z" fill="#111"/>
<polyline points="6.12,70.27 6.62,70.21 7.12,70.04 7.62,69.76 8.12,69.4 8.62,68.96 9.12,68.47 9.62,67.93 10.12,67.37 10.62,66.77 11.12,66.04 11.62,65.15 12.12,64.06 12.62,62.75 13.12,61.17 13.62,59.27 14.12,55.72 14.62,50.82 15.12,45.77 15.62,40.69 16.12,35.2 16.62,31.41 17.12,30.12 17.62,29.28 18.12,28 18.62,26.36 19.12,25.07 19.62,24.79 20.12,25 20.62,25.45 21.12,26.47 21.62,30.57 22.12,35.67 22.62,41.67 23.12,47.94 23.62,54.59 24.12,59.83 24.62,63.17 25.12,65.85 25.62,67.72 26.12,68.8 26.62,69.54 27.12,70.11 27.62,70.63 28.12,71.09 28.62,71.46" fill="none" stroke="#111" stroke-width="1.3" stroke-dasharray="2.4 1.5"/>
<rect x="0" y="0" width="100" height="72.1" fill="none" stroke="#111" stroke-width="1.6"/>
<path d="M-4.4,72.1H0 M-2.9,69.22H0 M-2.9,66.33H0 M-2.9,63.45H0 M-2.9,60.56H0 M-4.4,57.68H0 M-2.9,54.8H0 M-2.9,51.91H0 M-2.9,49.03H0 M-2.9,46.14H0 M-4.4,43.26H0 M-2.9,40.38H0 M-2.9,37.49H0 M-2.9,34.61H0 M-2.9,31.72H0 M-4.4,28.84H0 M-2.9,25.96H0 M-2.9,23.07H0 M-2.9,20.19H0 M-2.9,17.3H0 M-4.4,14.42H0 M-2.9,11.54H0 M-2.9,8.65H0 M-2.9,5.77H0 M-2.9,2.88H0 M-4.4,0H0" stroke="#111" stroke-width="1.3"/>
<path d="M0,72.1V77.1 M7.53,72.1V75.1 M11.93,72.1V75.1 M15.05,72.1V75.1 M17.47,72.1V75.1 M19.45,72.1V75.1 M21.13,72.1V75.1 M22.58,72.1V75.1 M23.86,72.1V75.1 M25,72.1V77.1 M32.53,72.1V75.1 M36.93,72.1V75.1 M40.05,72.1V75.1 M42.47,72.1V75.1 M44.45,72.1V75.1 M46.13,72.1V75.1 M47.58,72.1V75.1 M48.86,72.1V75.1 M50,72.1V77.1 M57.53,72.1V75.1 M61.93,72.1V75.1 M65.05,72.1V75.1 M67.47,72.1V75.1 M69.45,72.1V75.1 M71.13,72.1V75.1 M72.58,72.1V75.1 M73.86,72.1V75.1 M75,72.1V77.1 M82.53,72.1V75.1 M86.93,72.1V75.1 M90.05,72.1V75.1 M92.47,72.1V75.1 M94.45,72.1V75.1 M96.13,72.1V75.1 M97.58,72.1V75.1 M98.86,72.1V75.1 M100,72.1V77.1" stroke="#111" stroke-width="1.3"/>
<text class="yl" transform="translate(-7.2,-1) rotate(-90)" text-anchor="middle">200</text>
<text class="yl" transform="translate(-7.2,70.6) rotate(-90)" text-anchor="middle">0</text>
<text class="xl" x="1" y="87.4" text-anchor="middle">10<tspan class="sup" dy="-3.9">0</tspan></text>
<text class="xl" x="25.3" y="87.4" text-anchor="middle">10<tspan class="sup" dy="-3.9">1</tspan></text>
<text class="xl" x="50.3" y="87.4" text-anchor="middle">10<tspan class="sup" dy="-3.9">2</tspan></text>
<text class="xl" x="75.1" y="87.4" text-anchor="middle">10<tspan class="sup" dy="-3.9">3</tspan></text>
<text class="xl" x="98.7" y="87.4" text-anchor="middle">10<tspan class="sup" dy="-3.9">4</tspan></text>
</g>
<g transform="translate(410.2,256.8)">
<path d="M-0.76,72.1 L-0.76,70.74 -0.26,70.71 0.24,70.49 0.74,70.55 1.24,70.67 1.74,70.63 2.24,70.66 2.74,70.65 3.24,70.62 3.74,70.71 4.24,70.85 4.74,70.79 5.24,70.66 5.74,70.85 6.24,71.02 6.74,71.09 7.24,70.93 7.74,70.72 8.24,70.73 8.74,70.49 9.24,70.43 9.74,70.77 10.24,70.95 10.74,70.91 11.24,70.84 11.74,70.69 12.24,70.5 12.74,70.78 13.24,70.88 13.74,70.39 14.24,70.35 14.74,70.51 15.24,70.44 15.74,70.52 16.24,70.6 16.74,70.57 17.24,70.47 17.74,70.45 18.24,70.55 18.74,70.42 19.24,70.52 19.74,70.82 20.24,70.62 20.74,70.24 21.24,70.19 21.74,70.35 22.24,70.32 22.74,70.38 23.24,70.66 23.74,70.63 24.24,70.49 24.74,70.59 25.24,70.63 25.74,70.42 26.24,70.35 26.74,70.34 27.24,70.27 27.74,70.4 28.24,70.38 28.74,70.12 29.24,70.36 29.74,70.61 30.24,70.28 30.74,70.21 31.24,70.4 31.74,70.49 32.24,70.58 32.74,70.65 33.24,70.59 33.74,70.29 34.24,70.06 34.74,70.2 35.24,70.44 35.74,70.57 36.24,70.55 36.74,70.25 37.24,69.98 37.74,70.07 38.24,70.32 38.74,70.51 39.24,70.53 39.74,70.26 40.24,69.9 40.74,69.91 41.24,70.1 41.74,70.15 42.24,69.98 42.74,69.75 43.24,69.53 43.74,69.22 44.24,69.32 44.74,69.53 45.24,69.56 45.74,69.58 46.24,69.45 46.74,69.39 47.24,69.32 47.74,69.25 48.24,69.28 48.74,69.16 49.24,69.1 49.74,69.02 50.24,68.85 50.74,68.84 51.24,68.78 51.74,68.82 52.24,68.85 52.74,68.49 53.24,68.38 53.74,68.52 54.24,68.43 54.74,68 55.24,67.33 55.74,67 56.24,67.02 56.74,66.7 57.24,65.94 57.74,65.67 58.24,65.7 58.74,64.91 59.24,63.83 59.74,63.17 60.24,62.14 60.74,60.23 61.24,59.03 61.74,58.69 62.24,58.16 62.74,56.43 63.24,54.38 63.74,53.8 64.24,54.52 64.74,54.99 65.24,53.24 65.74,51.05 66.24,49.07 66.74,47.08 67.24,46.2 67.74,46.49 68.24,45.24 68.74,42.63 69.24,42.07 69.74,42.28 70.24,41.25 70.74,40.65 71.24,41.05 71.74,41.09 72.24,41.81 72.74,43.06 73.24,44.88 73.74,47.43 74.24,50.1 74.74,52.11 75.24,51.51 75.74,51.89 76.24,54.58 76.74,55.9 77.24,57.38 77.74,60.17 78.24,61.43 78.74,61.7 79.24,63.61 79.74,65.6 80.24,66.89 80.74,68.01 81.24,68.83 81.74,69.57 82.24,70.06 82.74,70.21 83.24,70.42 83.74,70.62 84.24,70.91 84.74,71.29 85.24,71.35 85.74,71.23 86.24,71.38 86.74,71.5 87.24,71.33 87.74,71.24 88.24,71.31 88.74,71.12 89.24,71.18 89.74,71.43 90.24,71.29 90.74,71.29 91.24,71.4 91.74,71.5 92.24,71.5 92.74,71.5 93.24,71.48 93.74,71.15 94.24,71.13 94.74,71.13 95.24,71.4 95.74,71.5 96.24,71.5 96.74,71.5 97.24,71.46 97.74,71.19 98.24,71.32 98.74,71.34 L98.74,72.1Z" fill="#111"/>
<polyline points="5.38,70.7 5.88,70.62 6.38,70.42 6.88,70.1 7.38,69.68 7.88,69.18 8.38,68.62 8.88,68.02 9.38,67.39 9.88,66.74 10.38,65.95 10.88,65.01 11.38,63.9 11.88,62.59 12.38,61.08 12.88,59.32 13.38,56.85 13.88,53.54 14.38,49.55 14.88,45.06 15.38,38 15.88,31.51 16.38,29.93 16.88,29.04 17.38,28.35 17.88,27.53 18.38,26.55 18.88,25.61 19.38,24.95 19.88,24.8 20.38,25.44 20.88,26.74 21.38,28.55 21.88,32.43 22.38,37.11 22.88,42.05 23.38,47.19 23.88,52.33 24.38,57.23 24.88,61.92 25.38,65.64 25.88,67.26 26.38,68.39 26.88,69.25 27.38,69.97 27.88,70.68 28.38,71.27" fill="none" stroke="#111" stroke-width="1.3" stroke-dasharray="2.4 1.5"/>
<rect x="0" y="0" width="100" height="72.1" fill="none" stroke="#111" stroke-width="1.6"/>
<path d="M-4.4,72.1H0 M-2.9,69.22H0 M-2.9,66.33H0 M-2.9,63.45H0 M-2.9,60.56H0 M-4.4,57.68H0 M-2.9,54.8H0 M-2.9,51.91H0 M-2.9,49.03H0 M-2.9,46.14H0 M-4.4,43.26H0 M-2.9,40.38H0 M-2.9,37.49H0 M-2.9,34.61H0 M-2.9,31.72H0 M-4.4,28.84H0 M-2.9,25.96H0 M-2.9,23.07H0 M-2.9,20.19H0 M-2.9,17.3H0 M-4.4,14.42H0 M-2.9,11.54H0 M-2.9,8.65H0 M-2.9,5.77H0 M-2.9,2.88H0 M-4.4,0H0" stroke="#111" stroke-width="1.3"/>
<path d="M0,72.1V77.1 M7.53,72.1V75.1 M11.93,72.1V75.1 M15.05,72.1V75.1 M17.47,72.1V75.1 M19.45,72.1V75.1 M21.13,72.1V75.1 M22.58,72.1V75.1 M23.86,72.1V75.1 M25,72.1V77.1 M32.53,72.1V75.1 M36.93,72.1V75.1 M40.05,72.1V75.1 M42.47,72.1V75.1 M44.45,72.1V75.1 M46.13,72.1V75.1 M47.58,72.1V75.1 M48.86,72.1V75.1 M50,72.1V77.1 M57.53,72.1V75.1 M61.93,72.1V75.1 M65.05,72.1V75.1 M67.47,72.1V75.1 M69.45,72.1V75.1 M71.13,72.1V75.1 M72.58,72.1V75.1 M73.86,72.1V75.1 M75,72.1V77.1 M82.53,72.1V75.1 M86.93,72.1V75.1 M90.05,72.1V75.1 M92.47,72.1V75.1 M94.45,72.1V75.1 M96.13,72.1V75.1 M97.58,72.1V75.1 M98.86,72.1V75.1 M100,72.1V77.1" stroke="#111" stroke-width="1.3"/>
<text class="yl" transform="translate(-7.2,-1) rotate(-90)" text-anchor="middle">200</text>
<text class="yl" transform="translate(-7.2,70.6) rotate(-90)" text-anchor="middle">0</text>
<text class="xl" x="1" y="87.4" text-anchor="middle">10<tspan class="sup" dy="-3.9">0</tspan></text>
<text class="xl" x="25.3" y="87.4" text-anchor="middle">10<tspan class="sup" dy="-3.9">1</tspan></text>
<text class="xl" x="50.3" y="87.4" text-anchor="middle">10<tspan class="sup" dy="-3.9">2</tspan></text>
<text class="xl" x="75.1" y="87.4" text-anchor="middle">10<tspan class="sup" dy="-3.9">3</tspan></text>
<text class="xl" x="98.7" y="87.4" text-anchor="middle">10<tspan class="sup" dy="-3.9">4</tspan></text>
</g>
<g transform="translate(118.6,361.2)">
<path d="M-0.16,72.1 L-0.16,69.88 0.34,69.9 0.84,70 1.34,69.86 1.84,69.86 2.34,70.19 2.84,70.13 3.34,70.04 3.84,70.31 4.34,70.23 4.84,69.95 5.34,70.08 5.84,70.44 6.34,70.45 6.84,70.28 7.34,70.11 7.84,69.99 8.34,70.23 8.84,70.3 9.34,70.14 9.84,70.25 10.34,70.16 10.84,69.99 11.34,70.45 11.84,70.64 12.34,70.39 12.84,70.26 13.34,69.96 13.84,69.81 14.34,70.02 14.84,70.23 15.34,70.11 15.84,69.99 16.34,70.18 16.84,70.24 17.34,69.94 17.84,69.97 18.34,70.31 18.84,70.23 19.34,69.88 19.84,69.82 20.34,69.82 20.84,69.6 21.34,69.62 21.84,69.55 22.34,69.06 22.84,68.55 23.34,68.34 23.84,68.55 24.34,68.7 24.84,68.3 25.34,67.89 25.84,68.14 26.34,68.25 26.84,67.63 27.34,66.87 27.84,66.52 28.34,66.27 28.84,65.67 29.34,65.28 29.84,65.12 30.34,64.65 30.84,64.1 31.34,64.06 31.84,64.1 32.34,63.57 32.84,63.25 33.34,63.17 33.84,62.87 34.34,62.4 34.84,61.93 35.34,61.43 35.84,61.04 36.34,61.07 36.84,60.59 37.34,59.57 37.84,58.38 38.34,57.31 38.84,57.81 39.34,58.45 39.84,57.95 40.34,57.79 40.84,58.15 41.34,57.68 41.84,57.62 42.34,58.94 42.84,58.9 43.34,57.71 43.84,57.52 44.34,58.42 44.84,59.85 45.34,60.31 45.84,59.43 46.34,58.88 46.84,59.26 47.34,59.21 47.84,59.15 48.34,59.44 48.84,59.12 49.34,58.76 49.84,58.69 50.34,58.55 50.84,57.99 51.34,56.87 51.84,57.12 52.34,58.01 52.84,58.32 53.34,59.45 53.84,60.34 54.34,59.96 54.84,59.44 55.34,59.47 55.84,59.42 56.34,58.34 56.84,56.85 57.34,57.83 57.84,59.55 58.34,58.34 58.84,56.95 59.34,57.4 59.84,58.21 60.34,58.54 60.84,59.08 61.34,59.82 61.84,60.23 62.34,59.7 62.84,59.23 63.34,60.3 63.84,61.48 64.34,62.03 64.84,62.07 65.34,61.99 65.84,62.11 66.34,62.69 66.84,63.82 67.34,64.15 67.84,64.01 68.34,64.08 68.84,63.98 69.34,64.24 69.84,64.92 70.34,65.11 70.84,64.82 71.34,64.92 71.84,65.43 72.34,66.16 72.84,66.93 73.34,67.08 73.84,66.87 74.34,67.02 74.84,67.6 75.34,67.93 75.84,67.83 76.34,68.06 76.84,68.61 77.34,68.92 77.84,68.93 78.34,68.95 78.84,69.07 79.34,69.25 79.84,69.34 80.34,69.36 80.84,69.42 81.34,69.79 81.84,70.04 82.34,69.76 82.84,69.82 83.34,70.08 83.84,69.86 84.34,69.77 84.84,70.23 85.34,70.63 85.84,70.58 86.34,70.38 86.84,70.26 87.34,70.15 87.84,70.24 88.34,70.57 88.84,70.59 89.34,70.43 89.84,70.46 90.34,70.79 90.84,70.99 91.34,70.94 91.84,70.96 92.34,70.63 92.84,70.4 93.34,70.57 93.84,70.82 94.34,71.01 94.84,70.81 95.34,70.59 95.84,70.45 96.34,70.6 96.84,71.09 97.34,71.12 97.84,70.89 98.34,71.03 98.84,71.21 99.34,71.05 L99.34,72.1Z" fill="#111"/>
<rect x="0" y="67.1" width="1.5" height="5" fill="#111"/>
<polyline points="7.03,69.87 7.53,69.81 8.03,69.64 8.53,69.36 9.03,69 9.53,68.56 10.03,68.07 10.53,67.53 11.03,66.97 11.53,66.35 12.03,65.51 12.53,64.47 13.03,63.27 13.53,61.93 14.03,60.49 14.53,59 15.03,57.24 15.53,55.22 16.03,53.07 16.53,50.91 17.03,48.7 17.53,46.38 18.03,44.06 18.53,41.86 19.03,39.72 19.53,37.51 20.03,35.7 20.53,34.69 21.03,34 21.53,33.56 22.03,33.51 22.53,33.95 23.03,34.8 23.53,35.94 24.03,37.31 24.53,40.01 25.03,43.72 25.53,47.21 26.03,50.49 26.53,53.74 27.03,56.67 27.53,59.24 28.03,61.63 28.53,63.65 29.03,65.15 29.53,66.26 30.03,67.22 30.53,68.23 31.03,69.25 31.53,70.24" fill="none" stroke="#111" stroke-width="1.3" stroke-dasharray="2.4 1.5"/>
<rect x="0" y="0" width="100" height="72.1" fill="none" stroke="#111" stroke-width="1.6"/>
<path d="M-4.4,72.1H0 M-2.9,69.22H0 M-2.9,66.33H0 M-2.9,63.45H0 M-2.9,60.56H0 M-4.4,57.68H0 M-2.9,54.8H0 M-2.9,51.91H0 M-2.9,49.03H0 M-2.9,46.14H0 M-4.4,43.26H0 M-2.9,40.38H0 M-2.9,37.49H0 M-2.9,34.61H0 M-2.9,31.72H0 M-4.4,28.84H0 M-2.9,25.96H0 M-2.9,23.07H0 M-2.9,20.19H0 M-2.9,17.3H0 M-4.4,14.42H0 M-2.9,11.54H0 M-2.9,8.65H0 M-2.9,5.77H0 M-2.9,2.88H0 M-4.4,0H0" stroke="#111" stroke-width="1.3"/>
<path d="M0,72.1V77.1 M7.53,72.1V75.1 M11.93,72.1V75.1 M15.05,72.1V75.1 M17.47,72.1V75.1 M19.45,72.1V75.1 M21.13,72.1V75.1 M22.58,72.1V75.1 M23.86,72.1V75.1 M25,72.1V77.1 M32.53,72.1V75.1 M36.93,72.1V75.1 M40.05,72.1V75.1 M42.47,72.1V75.1 M44.45,72.1V75.1 M46.13,72.1V75.1 M47.58,72.1V75.1 M48.86,72.1V75.1 M50,72.1V77.1 M57.53,72.1V75.1 M61.93,72.1V75.1 M65.05,72.1V75.1 M67.47,72.1V75.1 M69.45,72.1V75.1 M71.13,72.1V75.1 M72.58,72.1V75.1 M73.86,72.1V75.1 M75,72.1V77.1 M82.53,72.1V75.1 M86.93,72.1V75.1 M90.05,72.1V75.1 M92.47,72.1V75.1 M94.45,72.1V75.1 M96.13,72.1V75.1 M97.58,72.1V75.1 M98.86,72.1V75.1 M100,72.1V77.1" stroke="#111" stroke-width="1.3"/>
<text class="yl" transform="translate(-7.2,-1) rotate(-90)" text-anchor="middle">200</text>
<text class="yl" transform="translate(-7.2,70.6) rotate(-90)" text-anchor="middle">0</text>
<text class="xl" x="1" y="87.4" text-anchor="middle">10<tspan class="sup" dy="-3.9">0</tspan></text>
<text class="xl" x="25.3" y="87.4" text-anchor="middle">10<tspan class="sup" dy="-3.9">1</tspan></text>
<text class="xl" x="50.3" y="87.4" text-anchor="middle">10<tspan class="sup" dy="-3.9">2</tspan></text>
<text class="xl" x="75.1" y="87.4" text-anchor="middle">10<tspan class="sup" dy="-3.9">3</tspan></text>
<text class="xl" x="98.7" y="87.4" text-anchor="middle">10<tspan class="sup" dy="-3.9">4</tspan></text>
</g>
<g transform="translate(263.3,361)">
<path d="M1.14,72.1 L1.14,70.41 1.64,70.34 2.14,70.31 2.64,70.26 3.14,70.45 3.64,70.7 4.14,70.53 4.64,70.44 5.14,70.52 5.64,70.4 6.14,70.2 6.64,70.33 7.14,70.59 7.64,70.36 8.14,70.12 8.64,70.27 9.14,70.3 9.64,70.2 10.14,70.37 10.64,70.85 11.14,70.93 11.64,70.54 12.14,70.36 12.64,70.32 13.14,70.28 13.64,70.42 14.14,70.52 14.64,70.48 15.14,70.55 15.64,70.69 16.14,70.66 16.64,70.44 17.14,70.28 17.64,70.3 18.14,70.24 18.64,70.04 19.14,69.94 19.64,70.04 20.14,70.23 20.64,70.25 21.14,70.33 21.64,70.5 22.14,70.31 22.64,70.08 23.14,70.22 23.64,70.57 24.14,70.58 24.64,70.29 25.14,70.3 25.64,70.22 26.14,69.82 26.64,69.57 27.14,69.94 27.64,70.49 28.14,70.44 28.64,70.18 29.14,70.05 29.64,70.16 30.14,70.29 30.64,70.1 31.14,70.23 31.64,70.43 32.14,70.1 32.64,69.82 33.14,69.66 33.64,69.49 34.14,69.65 34.64,69.78 35.14,69.55 35.64,69.22 36.14,68.77 36.64,68.61 37.14,68.74 37.64,68.37 38.14,67.86 38.64,67.66 39.14,67.2 39.64,66.33 40.14,65.42 40.64,64.44 41.14,64.08 41.64,63.67 42.14,62.3 42.64,60.99 43.14,60.13 43.64,59.08 44.14,58.36 44.64,58.04 45.14,55.89 45.64,53.75 46.14,53.03 46.64,52.11 47.14,51.1 47.64,49.91 48.14,48.03 48.64,46.88 49.14,47.76 49.64,49.87 50.14,49.74 50.64,47.26 51.14,45.92 51.64,46.09 52.14,46.85 52.64,48.42 53.14,49.63 53.64,49.39 54.14,49.38 54.64,48.92 55.14,48.61 55.64,48.63 56.14,48.32 56.64,48.59 57.14,48.62 57.64,49.07 58.14,48.8 58.64,47.69 59.14,48.87 59.64,50.48 60.14,51.27 60.64,52.66 61.14,53.88 61.64,55.42 62.14,57.38 62.64,58.19 63.14,59.07 63.64,60.43 64.14,61.44 64.64,62.28 65.14,62.94 65.64,63.81 66.14,64.97 66.64,65.62 67.14,66.13 67.64,67.03 68.14,67.7 68.64,68.01 69.14,68.36 69.64,68.86 70.14,69.34 70.64,69.62 71.14,69.79 71.64,70.04 72.14,70.2 72.64,70.23 73.14,70.18 73.64,70.01 74.14,70.11 74.64,70.48 75.14,70.6 75.64,70.54 76.14,70.69 76.64,70.74 77.14,70.57 77.64,70.44 78.14,70.29 78.64,70.43 79.14,70.74 79.64,70.67 80.14,70.72 80.64,70.9 81.14,70.59 81.64,70.43 82.14,70.63 82.64,70.76 83.14,70.92 83.64,70.96 84.14,70.98 84.64,71.13 85.14,71.19 85.64,71.03 86.14,70.83 86.64,70.79 87.14,70.94 87.64,71.13 88.14,71.04 88.64,70.88 89.14,70.9 89.64,70.86 90.14,71.09 90.64,71.38 91.14,71.29 91.64,71.21 92.14,71.18 92.64,71.21 93.14,71.19 93.64,71.29 94.14,71.5 94.64,71.34 95.14,71.01 95.64,70.88 96.14,71.06 96.64,71.42 97.14,71.38 97.64,71.12 98.14,71.26 98.64,71.48 99.14,71.29 99.64,71.26 100.14,71.49 100.64,71.39 L100.64,72.1Z" fill="#111"/>
<polyline points="6.22,70.07 6.72,70.05 7.22,69.99 7.72,69.89 8.22,69.74 8.72,69.56 9.22,69.35 9.72,69.1 10.22,68.82 10.72,68.51 11.22,68.17 11.72,67.76 12.22,66.95 12.72,65.77 13.22,64.32 13.72,62.7 14.22,61.01 14.72,59.37 15.22,57.65 15.72,55.77 16.22,53.76 16.72,51.66 17.22,49.52 17.72,47.37 18.22,45.1 18.72,42.55 19.22,40.05 19.72,38.01 20.22,36.65 20.72,35.46 21.22,34.47 21.72,33.83 22.22,33.69 22.72,34.12 23.22,34.97 23.72,36.09 24.22,37.32 24.72,38.98 25.22,41.24 25.72,43.79 26.22,46.33 26.72,48.78 27.22,51.36 27.72,53.95 28.22,56.41 28.72,58.69 29.22,61 29.72,63.18 30.22,64.98 30.72,66.2 31.22,67.1 31.72,67.82 32.22,68.46 32.72,69.09 33.22,69.7 33.72,70.27 34.22,70.79" fill="none" stroke="#111" stroke-width="1.3" stroke-dasharray="2.4 1.5"/>
<rect x="0" y="0" width="100" height="72.1" fill="none" stroke="#111" stroke-width="1.6"/>
<path d="M-4.4,72.1H0 M-2.9,69.22H0 M-2.9,66.33H0 M-2.9,63.45H0 M-2.9,60.56H0 M-4.4,57.68H0 M-2.9,54.8H0 M-2.9,51.91H0 M-2.9,49.03H0 M-2.9,46.14H0 M-4.4,43.26H0 M-2.9,40.38H0 M-2.9,37.49H0 M-2.9,34.61H0 M-2.9,31.72H0 M-4.4,28.84H0 M-2.9,25.96H0 M-2.9,23.07H0 M-2.9,20.19H0 M-2.9,17.3H0 M-4.4,14.42H0 M-2.9,11.54H0 M-2.9,8.65H0 M-2.9,5.77H0 M-2.9,2.88H0 M-4.4,0H0" stroke="#111" stroke-width="1.3"/>
<path d="M0,72.1V77.1 M7.53,72.1V75.1 M11.93,72.1V75.1 M15.05,72.1V75.1 M17.47,72.1V75.1 M19.45,72.1V75.1 M21.13,72.1V75.1 M22.58,72.1V75.1 M23.86,72.1V75.1 M25,72.1V77.1 M32.53,72.1V75.1 M36.93,72.1V75.1 M40.05,72.1V75.1 M42.47,72.1V75.1 M44.45,72.1V75.1 M46.13,72.1V75.1 M47.58,72.1V75.1 M48.86,72.1V75.1 M50,72.1V77.1 M57.53,72.1V75.1 M61.93,72.1V75.1 M65.05,72.1V75.1 M67.47,72.1V75.1 M69.45,72.1V75.1 M71.13,72.1V75.1 M72.58,72.1V75.1 M73.86,72.1V75.1 M75,72.1V77.1 M82.53,72.1V75.1 M86.93,72.1V75.1 M90.05,72.1V75.1 M92.47,72.1V75.1 M94.45,72.1V75.1 M96.13,72.1V75.1 M97.58,72.1V75.1 M98.86,72.1V75.1 M100,72.1V77.1" stroke="#111" stroke-width="1.3"/>
<text class="yl" transform="translate(-7.2,-1) rotate(-90)" text-anchor="middle">200</text>
<text class="yl" transform="translate(-7.2,70.6) rotate(-90)" text-anchor="middle">0</text>
<text class="xl" x="1" y="87.4" text-anchor="middle">10<tspan class="sup" dy="-3.9">0</tspan></text>
<text class="xl" x="25.3" y="87.4" text-anchor="middle">10<tspan class="sup" dy="-3.9">1</tspan></text>
<text class="xl" x="50.3" y="87.4" text-anchor="middle">10<tspan class="sup" dy="-3.9">2</tspan></text>
<text class="xl" x="75.1" y="87.4" text-anchor="middle">10<tspan class="sup" dy="-3.9">3</tspan></text>
<text class="xl" x="98.7" y="87.4" text-anchor="middle">10<tspan class="sup" dy="-3.9">4</tspan></text>
</g>
<g transform="translate(408.5,361.1)">
<path d="M0.94,72.1 L0.94,70.61 1.44,70.54 1.94,70.6 2.44,70.72 2.94,70.88 3.44,70.82 3.94,70.44 4.44,70.17 4.94,70.38 5.44,70.86 5.94,70.95 6.44,70.59 6.94,70.33 7.44,70.49 7.94,70.71 8.44,70.58 8.94,70.48 9.44,70.59 9.94,70.48 10.44,70.3 10.94,70.32 11.44,70.32 11.94,70.28 12.44,70.21 12.94,70.12 13.44,70.23 13.94,70.53 14.44,70.47 14.94,70.31 15.44,70.77 15.94,70.99 16.44,70.45 16.94,70 17.44,69.93 17.94,70.16 18.44,70.5 18.94,70.54 19.44,70.39 19.94,70.32 20.44,70.21 20.94,70.16 21.44,70.06 21.94,69.83 22.44,69.76 22.94,69.94 23.44,70.26 23.94,70.34 24.44,70.27 24.94,70.13 25.44,70 25.94,70.08 26.44,70.02 26.94,69.86 27.44,70.1 27.94,70.51 28.44,70.45 28.94,70.08 29.44,69.75 29.94,69.56 30.44,69.59 30.94,69.57 31.44,69.69 31.94,69.84 32.44,69.87 32.94,70.09 33.44,70.17 33.94,70.21 34.44,70.12 34.94,69.79 35.44,69.62 35.94,69.63 36.44,69.71 36.94,69.65 37.44,69.72 37.94,70.03 38.44,70.17 38.94,70 39.44,69.54 39.94,69.22 40.44,69.11 40.94,68.78 41.44,68.5 41.94,68.41 42.44,67.79 42.94,66.54 43.44,65.5 43.94,64.96 44.44,64.52 44.94,64.36 45.44,64.15 45.94,63.19 46.44,61.71 46.94,60.35 47.44,60.25 47.94,60.61 48.44,59.34 48.94,57.86 49.44,57.11 49.94,55.78 50.44,54.71 50.94,54.9 51.44,55.16 51.94,54.87 52.44,55.72 52.94,56.2 53.44,54.46 53.94,52.22 54.44,51.75 54.94,52.24 55.44,50.82 55.94,48.75 56.44,46.46 56.94,45.66 57.44,46.6 57.94,48.71 58.44,51.15 58.94,51.53 59.44,51.75 59.94,52.86 60.44,54.39 60.94,55.22 61.44,55.14 61.94,57.15 62.44,59.1 62.94,59.11 63.44,60.04 63.94,61.64 64.44,61.92 64.94,62.79 65.44,64.92 65.94,65.83 66.44,66.04 66.94,66.87 67.44,67.4 67.94,67.38 68.44,67.68 68.94,68.56 69.44,69.16 69.94,69.12 70.44,69.19 70.94,69.48 71.44,69.81 71.94,70.28 72.44,70.49 72.94,70.36 73.44,70.51 73.94,70.68 74.44,70.64 74.94,70.67 75.44,70.69 75.94,70.64 76.44,70.45 76.94,70.48 77.44,70.86 77.94,70.93 78.44,70.74 78.94,70.55 79.44,70.35 79.94,70.39 80.44,70.83 80.94,71.17 81.44,71.02 81.94,71 82.44,71.12 82.94,70.96 83.44,70.85 83.94,70.95 84.44,71.05 84.94,70.96 85.44,70.74 85.94,70.57 86.44,70.57 86.94,70.68 87.44,70.63 87.94,70.63 88.44,70.9 88.94,71.01 89.44,71.04 89.94,71.24 90.44,71.31 90.94,71.19 91.44,71.06 91.94,71.04 92.44,71.29 92.94,71.47 93.44,71.2 93.94,71.03 94.44,71.06 94.94,71.17 95.44,71.28 95.94,71.21 96.44,71.03 96.94,70.83 97.44,70.83 97.94,71.03 98.44,71.21 98.94,71.13 99.44,70.93 99.94,71.1 100.44,71.13 L100.44,72.1Z" fill="#111"/>
<polyline points="4.96,70.4 5.46,70.38 5.96,70.33 6.46,70.24 6.96,70.13 7.46,69.98 7.96,69.8 8.46,69.59 8.96,69.35 9.46,69.08 9.96,68.79 10.46,68.46 10.96,68.11 11.46,67.72 11.96,66.96 12.46,65.81 12.96,64.39 13.46,62.79 13.96,61.11 14.46,59.45 14.96,57.75 15.46,55.86 15.96,53.83 16.46,51.73 16.96,49.59 17.46,47.49 17.96,45.35 18.46,42.95 18.96,40.5 19.46,38.3 19.96,36.63 20.46,35.62 20.96,34.78 21.46,34.09 21.96,33.67 22.46,33.6 22.96,34.05 23.46,34.91 23.96,36.03 24.46,37.27 24.96,38.91 25.46,41.1 25.96,43.63 26.46,46.29 26.96,49.21 27.46,52.58 27.96,55.81 28.46,58.4 28.96,60.74 29.46,62.85 29.96,64.65 30.46,66.02 30.96,67.11 31.46,68.03 31.96,68.83 32.46,69.55 32.96,70.2 33.46,70.77" fill="none" stroke="#111" stroke-width="1.3" stroke-dasharray="2.4 1.5"/>
<rect x="0" y="0" width="100" height="72.1" fill="none" stroke="#111" stroke-width="1.6"/>
<path d="M-4.4,72.1H0 M-2.9,69.22H0 M-2.9,66.33H0 M-2.9,63.45H0 M-2.9,60.56H0 M-4.4,57.68H0 M-2.9,54.8H0 M-2.9,51.91H0 M-2.9,49.03H0 M-2.9,46.14H0 M-4.4,43.26H0 M-2.9,40.38H0 M-2.9,37.49H0 M-2.9,34.61H0 M-2.9,31.72H0 M-4.4,28.84H0 M-2.9,25.96H0 M-2.9,23.07H0 M-2.9,20.19H0 M-2.9,17.3H0 M-4.4,14.42H0 M-2.9,11.54H0 M-2.9,8.65H0 M-2.9,5.77H0 M-2.9,2.88H0 M-4.4,0H0" stroke="#111" stroke-width="1.3"/>
<path d="M0,72.1V77.1 M7.53,72.1V75.1 M11.93,72.1V75.1 M15.05,72.1V75.1 M17.47,72.1V75.1 M19.45,72.1V75.1 M21.13,72.1V75.1 M22.58,72.1V75.1 M23.86,72.1V75.1 M25,72.1V77.1 M32.53,72.1V75.1 M36.93,72.1V75.1 M40.05,72.1V75.1 M42.47,72.1V75.1 M44.45,72.1V75.1 M46.13,72.1V75.1 M47.58,72.1V75.1 M48.86,72.1V75.1 M50,72.1V77.1 M57.53,72.1V75.1 M61.93,72.1V75.1 M65.05,72.1V75.1 M67.47,72.1V75.1 M69.45,72.1V75.1 M71.13,72.1V75.1 M72.58,72.1V75.1 M73.86,72.1V75.1 M75,72.1V77.1 M82.53,72.1V75.1 M86.93,72.1V75.1 M90.05,72.1V75.1 M92.47,72.1V75.1 M94.45,72.1V75.1 M96.13,72.1V75.1 M97.58,72.1V75.1 M98.86,72.1V75.1 M100,72.1V77.1" stroke="#111" stroke-width="1.3"/>
<text class="yl" transform="translate(-7.2,-1) rotate(-90)" text-anchor="middle">200</text>
<text class="yl" transform="translate(-7.2,70.6) rotate(-90)" text-anchor="middle">0</text>
<text class="xl" x="1" y="87.4" text-anchor="middle">10<tspan class="sup" dy="-3.9">0</tspan></text>
<text class="xl" x="25.3" y="87.4" text-anchor="middle">10<tspan class="sup" dy="-3.9">1</tspan></text>
<text class="xl" x="50.3" y="87.4" text-anchor="middle">10<tspan class="sup" dy="-3.9">2</tspan></text>
<text class="xl" x="75.1" y="87.4" text-anchor="middle">10<tspan class="sup" dy="-3.9">3</tspan></text>
<text class="xl" x="98.7" y="87.4" text-anchor="middle">10<tspan class="sup" dy="-3.9">4</tspan></text>
</g>
<g transform="translate(118.6,465.1)">
<path d="M-0.16,72.1 L-0.16,70.34 0.34,70.33 0.84,70.09 1.34,70.35 1.84,70.83 2.34,70.77 2.84,70.67 3.34,70.66 3.84,70.52 4.34,70.5 4.84,70.6 5.34,70.51 5.84,70.26 6.34,70.22 6.84,70.33 7.34,70.4 7.84,70.26 8.34,70.13 8.84,70.3 9.34,70.4 9.84,70.48 10.34,70.68 10.84,70.7 11.34,70.66 11.84,70.63 12.34,70.28 12.84,70.15 13.34,70.44 13.84,70.4 14.34,70.15 14.84,70.05 15.34,69.99 15.84,69.99 16.34,70.04 16.84,69.95 17.34,70.01 17.84,70.14 18.34,70.23 18.84,70.45 19.34,70.48 19.84,70.25 20.34,70.15 20.84,70.25 21.34,70.25 21.84,70.22 22.34,70.22 22.84,70.2 23.34,70.1 23.84,69.89 24.34,69.89 24.84,69.92 25.34,69.78 25.84,69.62 26.34,69.7 26.84,70.12 27.34,70.42 27.84,70.36 28.34,70.05 28.84,69.89 29.34,69.93 29.84,69.92 30.34,69.86 30.84,69.72 31.34,69.44 31.84,69.32 32.34,69.12 32.84,68.85 33.34,68.67 33.84,68.49 34.34,68.54 34.84,68.43 35.34,67.81 35.84,67.39 36.34,67.52 36.84,67.52 37.34,67.21 37.84,66.92 38.34,66.45 38.84,66.13 39.34,65.83 39.84,65.34 40.34,65.29 40.84,65.25 41.34,64.7 41.84,64.08 42.34,63.48 42.84,63.11 43.34,63.65 43.84,63.63 44.34,62.56 44.84,62.15 45.34,61.65 45.84,61.33 46.34,61.87 46.84,61.97 47.34,62.4 47.84,63.53 48.34,63.83 48.84,62.88 49.34,62.12 49.84,61.72 50.34,61.2 50.84,61.32 51.34,61.7 51.84,61.47 52.34,60.83 52.84,60.67 53.34,60.76 53.84,61.07 54.34,61.01 54.84,59.93 55.34,59.85 55.84,60.25 56.34,59.49 56.84,58.15 57.34,57.05 57.84,57.21 58.34,58.2 58.84,59.08 59.34,59.6 59.84,60.02 60.34,60.94 60.84,61.66 61.34,61.71 61.84,61.33 62.34,60.67 62.84,60.63 63.34,62.01 63.84,63.17 64.34,62.13 64.84,60.88 65.34,60.66 65.84,60.55 66.34,61.32 66.84,62.5 67.34,62.77 67.84,62.89 68.34,63.32 68.84,63.54 69.34,63.44 69.84,63.7 70.34,64.56 70.84,65.08 71.34,65.19 71.84,65.22 72.34,64.8 72.84,64.32 73.34,64.59 73.84,65.19 74.34,65.47 74.84,65.86 75.34,66.25 75.84,66.31 76.34,66.65 76.84,66.94 77.34,67.14 77.84,67.53 78.34,67.86 78.84,68.17 79.34,68.46 79.84,68.55 80.34,68.65 80.84,68.77 81.34,68.92 81.84,69.32 82.34,69.42 82.84,69.01 83.34,68.94 83.84,69.43 84.34,69.67 84.84,69.36 85.34,69.2 85.84,69.42 86.34,69.64 86.84,69.85 87.34,69.88 87.84,69.69 88.34,69.64 88.84,69.68 89.34,69.99 89.84,70.4 90.34,70.53 90.84,70.64 91.34,70.95 91.84,71.08 92.34,70.97 92.84,70.75 93.34,70.85 93.84,71.3 94.34,71.17 94.84,70.91 95.34,71.09 95.84,71.02 96.34,71.04 96.84,71.17 97.34,71.02 97.84,70.85 98.34,70.86 98.84,71.05 99.34,71.08 L99.34,72.1Z" fill="#111"/>
<rect x="0" y="57.1" width="1.5" height="15" fill="#111"/>
<polyline points="3.86,69.97 4.36,69.95 4.86,69.87 5.36,69.74 5.86,69.58 6.36,69.37 6.86,69.12 7.36,68.84 7.86,68.53 8.36,68.2 8.86,67.84 9.36,67.47 9.86,67.08 10.36,66.67 10.86,66.15 11.36,65.51 11.86,64.75 12.36,63.88 12.86,62.92 13.36,61.87 13.86,60.76 14.36,59.58 14.86,58.16 15.36,56.34 15.86,54.39 16.36,52.58 16.86,51.1 17.36,49.72 17.86,48.44 18.36,47.31 18.86,46.34 19.36,45.52 19.86,44.78 20.36,44.09 20.86,43.41 21.36,42.61 21.86,41.85 22.36,41.42 22.86,41.95 23.36,43.84 23.86,46.25 24.36,48.89 24.86,52.09 25.36,55.12 25.86,58.12 26.36,61.24 26.86,64.42 27.36,66.6 27.86,68.1 28.36,69.32 28.86,70.38" fill="none" stroke="#111" stroke-width="1.3" stroke-dasharray="2.4 1.5"/>
<rect x="0" y="0" width="100" height="72.1" fill="none" stroke="#111" stroke-width="1.6"/>
<path d="M-4.4,72.1H0 M-2.9,69.22H0 M-2.9,66.33H0 M-2.9,63.45H0 M-2.9,60.56H0 M-4.4,57.68H0 M-2.9,54.8H0 M-2.9,51.91H0 M-2.9,49.03H0 M-2.9,46.14H0 M-4.4,43.26H0 M-2.9,40.38H0 M-2.9,37.49H0 M-2.9,34.61H0 M-2.9,31.72H0 M-4.4,28.84H0 M-2.9,25.96H0 M-2.9,23.07H0 M-2.9,20.19H0 M-2.9,17.3H0 M-4.4,14.42H0 M-2.9,11.54H0 M-2.9,8.65H0 M-2.9,5.77H0 M-2.9,2.88H0 M-4.4,0H0" stroke="#111" stroke-width="1.3"/>
<path d="M0,72.1V77.1 M7.53,72.1V75.1 M11.93,72.1V75.1 M15.05,72.1V75.1 M17.47,72.1V75.1 M19.45,72.1V75.1 M21.13,72.1V75.1 M22.58,72.1V75.1 M23.86,72.1V75.1 M25,72.1V77.1 M32.53,72.1V75.1 M36.93,72.1V75.1 M40.05,72.1V75.1 M42.47,72.1V75.1 M44.45,72.1V75.1 M46.13,72.1V75.1 M47.58,72.1V75.1 M48.86,72.1V75.1 M50,72.1V77.1 M57.53,72.1V75.1 M61.93,72.1V75.1 M65.05,72.1V75.1 M67.47,72.1V75.1 M69.45,72.1V75.1 M71.13,72.1V75.1 M72.58,72.1V75.1 M73.86,72.1V75.1 M75,72.1V77.1 M82.53,72.1V75.1 M86.93,72.1V75.1 M90.05,72.1V75.1 M92.47,72.1V75.1 M94.45,72.1V75.1 M96.13,72.1V75.1 M97.58,72.1V75.1 M98.86,72.1V75.1 M100,72.1V77.1" stroke="#111" stroke-width="1.3"/>
<text class="yl" transform="translate(-7.2,-1) rotate(-90)" text-anchor="middle">200</text>
<text class="yl" transform="translate(-7.2,70.6) rotate(-90)" text-anchor="middle">0</text>
<text class="xl" x="1" y="87.4" text-anchor="middle">10<tspan class="sup" dy="-3.9">0</tspan></text>
<text class="xl" x="25.3" y="87.4" text-anchor="middle">10<tspan class="sup" dy="-3.9">1</tspan></text>
<text class="xl" x="50.3" y="87.4" text-anchor="middle">10<tspan class="sup" dy="-3.9">2</tspan></text>
<text class="xl" x="75.1" y="87.4" text-anchor="middle">10<tspan class="sup" dy="-3.9">3</tspan></text>
<text class="xl" x="98.7" y="87.4" text-anchor="middle">10<tspan class="sup" dy="-3.9">4</tspan></text>
</g>
<g transform="translate(264.4,466)">
<path d="M0.04,72.1 L0.04,69.47 0.54,69.4 1.04,69.42 1.54,69.34 2.04,69.44 2.54,69.51 3.04,69.25 3.54,69.15 4.04,69.21 4.54,69.18 5.04,69.25 5.54,69.31 6.04,69.4 6.54,69.55 7.04,69.61 7.54,69.84 8.04,69.96 8.54,69.58 9.04,69.06 9.54,69.01 10.04,69.14 10.54,69.26 11.04,69.37 11.54,69.25 12.04,69.29 12.54,69.5 13.04,69.48 13.54,69.38 14.04,69.52 14.54,69.51 15.04,69.39 15.54,69.6 16.04,69.63 16.54,69.31 17.04,69.01 17.54,68.87 18.04,68.94 18.54,69.13 19.04,69.31 19.54,69.35 20.04,69.22 20.54,69.26 21.04,69.45 21.54,69.58 22.04,69.71 22.54,69.53 23.04,69.11 23.54,69.06 24.04,69.18 24.54,69.15 25.04,69.23 25.54,69.37 26.04,69.39 26.54,69.27 27.04,68.98 27.54,68.67 28.04,68.65 28.54,69.1 29.04,69.29 29.54,69.07 30.04,69.02 30.54,68.77 31.04,68.64 31.54,69 32.04,69.17 32.54,69.02 33.04,69.08 33.54,69.19 34.04,68.98 34.54,68.66 35.04,68.49 35.54,68.4 36.04,68.15 36.54,67.56 37.04,66.48 37.54,65.26 38.04,64.86 38.54,65.03 39.04,65.29 39.54,64.85 40.04,63.12 40.54,61.26 41.04,60.57 41.54,60.29 42.04,58.81 42.54,57.72 43.04,57.55 43.54,57.93 44.04,58.94 44.54,58.29 45.04,57.22 45.54,56.96 46.04,56.46 46.54,56.71 47.04,56.02 47.54,54.21 48.04,54.46 48.54,55.33 49.04,56.05 49.54,57.06 50.04,56.69 50.54,55.34 51.04,54.39 51.54,54.32 52.04,54.82 52.54,55.32 53.04,56.02 53.54,56.48 54.04,55.93 54.54,55.69 55.04,56.07 55.54,56.29 56.04,56.97 56.54,57.69 57.04,58.29 57.54,59.01 58.04,59.39 58.54,60.31 59.04,62.43 59.54,63.81 60.04,63.98 60.54,64.84 61.04,65.99 61.54,66.54 62.04,66.83 62.54,67.46 63.04,68.24 63.54,68.56 64.04,68.79 64.54,68.92 65.04,68.91 65.54,69.2 66.04,69.52 66.54,69.48 67.04,69.34 67.54,69.39 68.04,69.61 68.54,69.86 69.04,69.87 69.54,69.66 70.04,69.69 70.54,69.86 71.04,70.02 71.54,70.15 72.04,70.23 72.54,70.21 73.04,69.93 73.54,69.77 74.04,69.91 74.54,70.04 75.04,70.01 75.54,69.98 76.04,70 76.54,70.03 77.04,70.07 77.54,70.05 78.04,70 78.54,69.93 79.04,69.79 79.54,69.87 80.04,70.11 80.54,70.13 81.04,70 81.54,69.98 82.04,69.93 82.54,69.7 83.04,69.82 83.54,70.39 84.04,70.69 84.54,70.43 85.04,70.25 85.54,70.23 86.04,70.09 86.54,70.22 87.04,70.42 87.54,70.32 88.04,70.27 88.54,70.13 89.04,70.06 89.54,70.24 90.04,70.23 90.54,70.23 91.04,70.2 91.54,70.07 92.04,70.16 92.54,70.12 93.04,70.02 93.54,70.01 94.04,69.82 94.54,69.77 95.04,69.79 95.54,70.02 96.04,70.59 96.54,70.67 97.04,70.33 97.54,70.11 98.04,70.17 98.54,70.13 99.04,69.97 99.54,70.1 L99.54,72.1Z" fill="#111"/>
<rect x="0" y="58.1" width="1.5" height="14" fill="#111"/>
<polyline points="3,69.5 3.5,69.38 4,69.23 4.5,69.05 5,68.84 5.5,68.61 6,68.35 6.5,68.07 7,67.78 7.5,67.47 8,67.15 8.5,66.82 9,66.46 9.5,66.08 10,65.65 10.5,65.19 11,64.67 11.5,64.09 12,63.46 12.5,62.75 13,61.86 13.5,60.7 14,59.33 14.5,57.85 15,56.32 15.5,54.81 16,53.32 16.5,51.6 17,49.9 17.5,48.5 18,47.64 18.5,47.12 19,46.71 19.5,46.28 20,45.68 20.5,44.52 21,43.05 21.5,41.75 22,41.14 22.5,41.51 23,42.63 23.5,44.27 24,46.22 24.5,48.86 25,52.75 25.5,56.06 26,59.02 26.5,62.12 27,65.49 27.5,67.44 28,68.68 28.5,69.57 29,69.92" fill="none" stroke="#111" stroke-width="1.3" stroke-dasharray="2.4 1.5"/>
<rect x="0" y="0" width="100" height="72.1" fill="none" stroke="#111" stroke-width="1.6"/>
<path d="M-4.4,72.1H0 M-2.9,69.22H0 M-2.9,66.33H0 M-2.9,63.45H0 M-2.9,60.56H0 M-4.4,57.68H0 M-2.9,54.8H0 M-2.9,51.91H0 M-2.9,49.03H0 M-2.9,46.14H0 M-4.4,43.26H0 M-2.9,40.38H0 M-2.9,37.49H0 M-2.9,34.61H0 M-2.9,31.72H0 M-4.4,28.84H0 M-2.9,25.96H0 M-2.9,23.07H0 M-2.9,20.19H0 M-2.9,17.3H0 M-4.4,14.42H0 M-2.9,11.54H0 M-2.9,8.65H0 M-2.9,5.77H0 M-2.9,2.88H0 M-4.4,0H0" stroke="#111" stroke-width="1.3"/>
<path d="M0,72.1V77.1 M7.53,72.1V75.1 M11.93,72.1V75.1 M15.05,72.1V75.1 M17.47,72.1V75.1 M19.45,72.1V75.1 M21.13,72.1V75.1 M22.58,72.1V75.1 M23.86,72.1V75.1 M25,72.1V77.1 M32.53,72.1V75.1 M36.93,72.1V75.1 M40.05,72.1V75.1 M42.47,72.1V75.1 M44.45,72.1V75.1 M46.13,72.1V75.1 M47.58,72.1V75.1 M48.86,72.1V75.1 M50,72.1V77.1 M57.53,72.1V75.1 M61.93,72.1V75.1 M65.05,72.1V75.1 M67.47,72.1V75.1 M69.45,72.1V75.1 M71.13,72.1V75.1 M72.58,72.1V75.1 M73.86,72.1V75.1 M75,72.1V77.1 M82.53,72.1V75.1 M86.93,72.1V75.1 M90.05,72.1V75.1 M92.47,72.1V75.1 M94.45,72.1V75.1 M96.13,72.1V75.1 M97.58,72.1V75.1 M98.86,72.1V75.1 M100,72.1V77.1" stroke="#111" stroke-width="1.3"/>
<text class="yl" transform="translate(-7.2,-1) rotate(-90)" text-anchor="middle">200</text>
<text class="yl" transform="translate(-7.2,70.6) rotate(-90)" text-anchor="middle">0</text>
<text class="xl" x="1" y="87.4" text-anchor="middle">10<tspan class="sup" dy="-3.9">0</tspan></text>
<text class="xl" x="25.3" y="87.4" text-anchor="middle">10<tspan class="sup" dy="-3.9">1</tspan></text>
<text class="xl" x="50.3" y="87.4" text-anchor="middle">10<tspan class="sup" dy="-3.9">2</tspan></text>
<text class="xl" x="75.1" y="87.4" text-anchor="middle">10<tspan class="sup" dy="-3.9">3</tspan></text>
<text class="xl" x="98.7" y="87.4" text-anchor="middle">10<tspan class="sup" dy="-3.9">4</tspan></text>
</g>
<g transform="translate(410.2,464.9)">
<path d="M-0.76,72.1 L-0.76,70.85 -0.26,70.92 0.24,70.67 0.74,70.68 1.24,70.94 1.74,70.84 2.24,70.63 2.74,70.61 3.24,70.51 3.74,70.49 4.24,70.42 4.74,70.09 5.24,70.03 5.74,70.23 6.24,70.37 6.74,70.47 7.24,70.31 7.74,70.37 8.24,70.7 8.74,70.68 9.24,70.43 9.74,70.26 10.24,70.35 10.74,70.43 11.24,70.4 11.74,70.47 12.24,70.45 12.74,70.39 13.24,70.59 13.74,70.84 14.24,70.62 14.74,70.42 15.24,70.48 15.74,70.4 16.24,70.27 16.74,70.05 17.24,70.1 17.74,70.49 18.24,70.68 18.74,70.59 19.24,70.46 19.74,70.28 20.24,70.11 20.74,70.16 21.24,70.41 21.74,70.65 22.24,70.45 22.74,70.18 23.24,70.3 23.74,70.33 24.24,70.32 24.74,70.56 25.24,70.74 25.74,70.59 26.24,70.29 26.74,70.27 27.24,70.49 27.74,70.53 28.24,70.33 28.74,70.15 29.24,69.99 29.74,70.06 30.24,70.47 30.74,70.61 31.24,70.48 31.74,70.48 32.24,70.35 32.74,70.18 33.24,70.38 33.74,70.53 34.24,70.48 34.74,70.23 35.24,69.89 35.74,70.03 36.24,70.1 36.74,69.88 37.24,69.59 37.74,69.25 38.24,69.28 38.74,69.48 39.24,69.37 39.74,68.85 40.24,68.36 40.74,68.18 41.24,68.09 41.74,67.65 42.24,67.09 42.74,66.79 43.24,66.5 43.74,65.96 44.24,65.08 44.74,64.34 45.24,63.62 45.74,62.98 46.24,63.01 46.74,62.86 47.24,62.16 47.74,61.14 48.24,60.15 48.74,59.87 49.24,59.56 49.74,58.98 50.24,58.94 50.74,59.58 51.24,59.78 51.74,58.61 52.24,57.35 52.74,55.75 53.24,54.17 53.74,54.36 54.24,55.77 54.74,56.29 55.24,54.68 55.74,53.17 56.24,52 56.74,51.35 57.24,52.44 57.74,52.92 58.24,51.82 58.74,51.43 59.24,51.84 59.74,51.69 60.24,53.62 60.74,55.3 61.24,54.22 61.74,54.73 62.24,56.52 62.74,57.17 63.24,58.17 63.74,59.91 64.24,61.49 64.74,62.82 65.24,64.24 65.74,65.55 66.24,66.22 66.74,66.94 67.24,67.63 67.74,68.03 68.24,68.72 68.74,69.21 69.24,69.28 69.74,69.6 70.24,70.01 70.74,70.08 71.24,69.89 71.74,69.98 72.24,70.42 72.74,70.65 73.24,70.72 73.74,70.71 74.24,70.67 74.74,70.79 75.24,70.82 75.74,70.9 76.24,71.18 76.74,71.02 77.24,70.77 77.74,70.82 78.24,70.87 78.74,71.1 79.24,71.17 79.74,71.01 80.24,71.12 80.74,71.24 81.24,71.38 81.74,71.43 82.24,71.1 82.74,70.8 83.24,70.75 83.74,70.83 84.24,71.02 84.74,71.18 85.24,71.27 85.74,71.3 86.24,71.34 86.74,71.38 87.24,71.48 87.74,71.5 88.24,71.45 88.74,70.96 89.24,70.93 89.74,71.15 90.24,71.25 90.74,71.35 91.24,71.34 91.74,71.15 92.24,70.9 92.74,70.8 93.24,71.07 93.74,71.35 94.24,71.22 94.74,71.02 95.24,71.18 95.74,71.23 96.24,71.11 96.74,71.18 97.24,71.15 97.74,71.06 98.24,71.24 98.74,71.47 L98.74,72.1Z" fill="#111"/>
<rect x="0" y="56.6" width="1.5" height="15.5" fill="#111"/>
<polyline points="3.26,70.6 3.76,70.48 4.26,70.33 4.76,70.15 5.26,69.94 5.76,69.71 6.26,69.45 6.76,69.17 7.26,68.88 7.76,68.57 8.26,68.25 8.76,67.92 9.26,67.56 9.76,67.18 10.26,66.75 10.76,66.29 11.26,65.77 11.76,65.19 12.26,64.56 12.76,63.85 13.26,62.96 13.76,61.8 14.26,60.43 14.76,58.95 15.26,57.42 15.76,55.91 16.26,54.43 16.76,52.8 17.26,51.16 17.76,49.72 18.26,48.64 18.76,47.84 19.26,47.15 19.76,46.48 20.26,45.7 20.76,44.66 21.26,43.44 21.76,42.31 22.26,41.47 22.76,41.19 23.26,42.44 23.76,45.11 24.26,48.16 24.76,50.97 25.26,54.06 25.76,57.15 26.26,60.23 26.76,62.87 27.26,65.27 27.76,67.29 28.26,68.69 28.76,69.73 29.26,70.57 29.76,71.26" fill="none" stroke="#111" stroke-width="1.3" stroke-dasharray="2.4 1.5"/>
<rect x="0" y="0" width="100" height="72.1" fill="none" stroke="#111" stroke-width="1.6"/>
<path d="M-4.4,72.1H0 M-2.9,69.22H0 M-2.9,66.33H0 M-2.9,63.45H0 M-2.9,60.56H0 M-4.4,57.68H0 M-2.9,54.8H0 M-2.9,51.91H0 M-2.9,49.03H0 M-2.9,46.14H0 M-4.4,43.26H0 M-2.9,40.38H0 M-2.9,37.49H0 M-2.9,34.61H0 M-2.9,31.72H0 M-4.4,28.84H0 M-2.9,25.96H0 M-2.9,23.07H0 M-2.9,20.19H0 M-2.9,17.3H0 M-4.4,14.42H0 M-2.9,11.54H0 M-2.9,8.65H0 M-2.9,5.77H0 M-2.9,2.88H0 M-4.4,0H0" stroke="#111" stroke-width="1.3"/>
<path d="M0,72.1V77.1 M7.53,72.1V75.1 M11.93,72.1V75.1 M15.05,72.1V75.1 M17.47,72.1V75.1 M19.45,72.1V75.1 M21.13,72.1V75.1 M22.58,72.1V75.1 M23.86,72.1V75.1 M25,72.1V77.1 M32.53,72.1V75.1 M36.93,72.1V75.1 M40.05,72.1V75.1 M42.47,72.1V75.1 M44.45,72.1V75.1 M46.13,72.1V75.1 M47.58,72.1V75.1 M48.86,72.1V75.1 M50,72.1V77.1 M57.53,72.1V75.1 M61.93,72.1V75.1 M65.05,72.1V75.1 M67.47,72.1V75.1 M69.45,72.1V75.1 M71.13,72.1V75.1 M72.58,72.1V75.1 M73.86,72.1V75.1 M75,72.1V77.1 M82.53,72.1V75.1 M86.93,72.1V75.1 M90.05,72.1V75.1 M92.47,72.1V75.1 M94.45,72.1V75.1 M96.13,72.1V75.1 M97.58,72.1V75.1 M98.86,72.1V75.1 M100,72.1V77.1" stroke="#111" stroke-width="1.3"/>
<text class="yl" transform="translate(-7.2,-1) rotate(-90)" text-anchor="middle">200</text>
<text class="yl" transform="translate(-7.2,70.6) rotate(-90)" text-anchor="middle">0</text>
<text class="xl" x="1" y="87.4" text-anchor="middle">10<tspan class="sup" dy="-3.9">0</tspan></text>
<text class="xl" x="25.3" y="87.4" text-anchor="middle">10<tspan class="sup" dy="-3.9">1</tspan></text>
<text class="xl" x="50.3" y="87.4" text-anchor="middle">10<tspan class="sup" dy="-3.9">2</tspan></text>
<text class="xl" x="75.1" y="87.4" text-anchor="middle">10<tspan class="sup" dy="-3.9">3</tspan></text>
<text class="xl" x="98.7" y="87.4" text-anchor="middle">10<tspan class="sup" dy="-3.9">4</tspan></text>
</g>
<g transform="translate(118.6,570.4)">
<path d="M-0.16,72.1 L-0.16,69.84 0.34,69.9 0.84,70.18 1.34,70.06 1.84,69.99 2.34,70.08 2.84,69.8 3.34,69.7 3.84,70.02 4.34,70.27 4.84,70.19 5.34,69.91 5.84,69.91 6.34,70.48 6.84,70.81 7.34,70.43 7.84,70.09 8.34,69.99 8.84,69.86 9.34,69.78 9.84,69.73 10.34,69.72 10.84,69.79 11.34,69.77 11.84,69.83 12.34,69.95 12.84,69.84 13.34,69.83 13.84,69.96 14.34,69.75 14.84,69.39 15.34,69.46 15.84,69.59 16.34,69.42 16.84,69.35 17.34,69.35 17.84,69.15 18.34,69.02 18.84,69.02 19.34,69.07 19.84,68.87 20.34,68.34 20.84,68.13 21.34,68.26 21.84,68.31 22.34,68.32 22.84,68.11 23.34,67.59 23.84,67.35 24.34,67.71 24.84,67.78 25.34,67.08 25.84,66.81 26.34,67.02 26.84,66.9 27.34,66.55 27.84,66.31 28.34,66.26 28.84,66.15 29.34,66.11 29.84,65.94 30.34,65.49 30.84,65.54 31.34,65.8 31.84,65.46 32.34,64.89 32.84,64.52 33.34,64.53 33.84,64.65 34.34,64.64 34.84,64.57 35.34,64.56 35.84,64.23 36.34,63.71 36.84,63.84 37.34,63.65 37.84,62.56 38.34,62.09 38.84,62.2 39.34,61.96 39.84,61.58 40.34,61.42 40.84,62.44 41.34,63.38 41.84,63.06 42.34,62.56 42.84,61.78 43.34,61.18 43.84,61.56 44.34,62.03 44.84,62.64 45.34,63.33 45.84,62.61 46.34,60.98 46.84,60.53 47.34,61.29 47.84,61.57 48.34,61.08 48.84,61.01 49.34,61.32 49.84,61.47 50.34,61.74 50.84,61.99 51.34,62.07 51.84,62.11 52.34,61.8 52.84,60.45 53.34,59.19 53.84,59.75 54.34,60.55 54.84,59.87 55.34,59.23 55.84,59.94 56.34,59.95 56.84,58.5 57.34,57.86 57.84,58.15 58.34,59.21 58.84,60.16 59.34,59.89 59.84,60.23 60.34,60.84 60.84,60.71 61.34,60.17 61.84,59.5 62.34,59.16 62.84,58.95 63.34,58.76 63.84,58.5 64.34,58.18 64.84,57.88 65.34,58.57 65.84,60.46 66.34,61.53 66.84,60.75 67.34,60.68 67.84,61.88 68.34,62.4 68.84,62.24 69.34,61.88 69.84,62.13 70.34,62.58 70.84,62.95 71.34,63.99 71.84,64.54 72.34,63.99 72.84,63.42 73.34,63.39 73.84,63.68 74.34,63.85 74.84,64.2 75.34,64.65 75.84,64.79 76.34,65.43 76.84,66.05 77.34,66.04 77.84,66.24 78.34,66.77 78.84,67.32 79.34,67.62 79.84,67.94 80.34,68.47 80.84,69.03 81.34,69.39 81.84,69.49 82.34,69.54 82.84,69.66 83.34,69.62 83.84,69.45 84.34,69.37 84.84,69.45 85.34,69.54 85.84,69.67 86.34,70.22 86.84,70.59 87.34,70.07 87.84,69.65 88.34,69.87 88.84,70.12 89.34,70.34 89.84,70.3 90.34,70.2 90.84,70.41 91.34,70.47 91.84,70.39 92.34,70.65 92.84,70.99 93.34,70.81 93.84,70.6 94.34,70.54 94.84,70.46 95.34,70.54 95.84,70.81 96.34,70.92 96.84,70.81 97.34,70.82 97.84,70.64 98.34,70.52 98.84,70.74 99.34,70.82 L99.34,72.1Z" fill="#111"/>
<polyline points="4.92,70.1 5.42,70.05 5.92,69.9 6.42,69.68 6.92,69.38 7.42,69.03 7.92,68.64 8.42,68.21 8.92,67.77 9.42,67.3 9.92,66.73 10.42,66.05 10.92,65.24 11.42,64.3 11.92,63.23 12.42,62.01 12.92,60.27 13.42,58.01 13.92,55.46 14.42,52.84 14.92,50.09 15.42,47.05 15.92,43.91 16.42,40.84 16.92,37.79 17.42,34.59 17.92,31.81 18.42,29.99 18.92,28.53 19.42,27.54 19.92,27.46 20.42,28.63 20.92,30.48 21.42,32.37 21.92,34.49 22.42,37.05 22.92,40.18 23.42,44.96 23.92,50.28 24.42,54.58 24.92,58.42 25.42,61.84 25.92,64.76 26.42,66.7 26.92,68.13 27.42,69.22 27.92,70.12" fill="none" stroke="#111" stroke-width="1.3" stroke-dasharray="2.4 1.5"/>
<rect x="0" y="0" width="100" height="72.1" fill="none" stroke="#111" stroke-width="1.6"/>
<path d="M-4.4,72.1H0 M-2.9,69.22H0 M-2.9,66.33H0 M-2.9,63.45H0 M-2.9,60.56H0 M-4.4,57.68H0 M-2.9,54.8H0 M-2.9,51.91H0 M-2.9,49.03H0 M-2.9,46.14H0 M-4.4,43.26H0 M-2.9,40.38H0 M-2.9,37.49H0 M-2.9,34.61H0 M-2.9,31.72H0 M-4.4,28.84H0 M-2.9,25.96H0 M-2.9,23.07H0 M-2.9,20.19H0 M-2.9,17.3H0 M-4.4,14.42H0 M-2.9,11.54H0 M-2.9,8.65H0 M-2.9,5.77H0 M-2.9,2.88H0 M-4.4,0H0" stroke="#111" stroke-width="1.3"/>
<path d="M0,72.1V77.1 M7.53,72.1V75.1 M11.93,72.1V75.1 M15.05,72.1V75.1 M17.47,72.1V75.1 M19.45,72.1V75.1 M21.13,72.1V75.1 M22.58,72.1V75.1 M23.86,72.1V75.1 M25,72.1V77.1 M32.53,72.1V75.1 M36.93,72.1V75.1 M40.05,72.1V75.1 M42.47,72.1V75.1 M44.45,72.1V75.1 M46.13,72.1V75.1 M47.58,72.1V75.1 M48.86,72.1V75.1 M50,72.1V77.1 M57.53,72.1V75.1 M61.93,72.1V75.1 M65.05,72.1V75.1 M67.47,72.1V75.1 M69.45,72.1V75.1 M71.13,72.1V75.1 M72.58,72.1V75.1 M73.86,72.1V75.1 M75,72.1V77.1 M82.53,72.1V75.1 M86.93,72.1V75.1 M90.05,72.1V75.1 M92.47,72.1V75.1 M94.45,72.1V75.1 M96.13,72.1V75.1 M97.58,72.1V75.1 M98.86,72.1V75.1 M100,72.1V77.1" stroke="#111" stroke-width="1.3"/>
<text class="yl" transform="translate(-7.2,-1) rotate(-90)" text-anchor="middle">200</text>
<text class="yl" transform="translate(-7.2,70.6) rotate(-90)" text-anchor="middle">0</text>
<text class="xl" x="1" y="87.4" text-anchor="middle">10<tspan class="sup" dy="-3.9">0</tspan></text>
<text class="xl" x="25.3" y="87.4" text-anchor="middle">10<tspan class="sup" dy="-3.9">1</tspan></text>
<text class="xl" x="50.3" y="87.4" text-anchor="middle">10<tspan class="sup" dy="-3.9">2</tspan></text>
<text class="xl" x="75.1" y="87.4" text-anchor="middle">10<tspan class="sup" dy="-3.9">3</tspan></text>
<text class="xl" x="98.7" y="87.4" text-anchor="middle">10<tspan class="sup" dy="-3.9">4</tspan></text>
</g>
<g transform="translate(264.1,569.9)">
<path d="M0.34,72.1 L0.34,70.71 0.84,70.46 1.34,70.46 1.84,70.52 2.34,70.37 2.84,70.26 3.34,70.59 3.84,70.91 4.34,70.59 4.84,70.2 5.34,70.25 5.84,70.43 6.34,70.4 6.84,70.25 7.34,70.09 7.84,70.05 8.34,70.17 8.84,70.39 9.34,70.61 9.84,70.78 10.34,70.82 10.84,70.78 11.34,70.83 11.84,70.74 12.34,70.52 12.84,70.28 13.34,69.98 13.84,69.82 14.34,70.01 14.84,70.41 15.34,70.54 15.84,70.53 16.34,70.49 16.84,70.3 17.34,70.18 17.84,70.19 18.34,70.23 18.84,70.23 19.34,70.21 19.84,70.12 20.34,70.13 20.84,70.27 21.34,70.28 21.84,70.07 22.34,70.03 22.84,70.16 23.34,70.04 23.84,69.97 24.34,70 24.84,70.07 25.34,70.29 25.84,70.35 26.34,70.13 26.84,70 27.34,70.07 27.84,70.23 28.34,70.22 28.84,69.98 29.34,69.8 29.84,69.82 30.34,69.89 30.84,69.97 31.34,70.26 31.84,70.46 32.34,70.4 32.84,70.16 33.34,69.92 33.84,70.09 34.34,70.2 34.84,69.72 35.34,69.42 35.84,69.88 36.34,70.48 36.84,70.65 37.34,70.3 37.84,69.81 38.34,69.57 38.84,69.66 39.34,69.82 39.84,69.58 40.34,69.02 40.84,68.72 41.34,68.97 41.84,68.94 42.34,68.4 42.84,68.17 43.34,68.04 43.84,67.49 44.34,67.06 44.84,66.88 45.34,66.64 45.84,66.16 46.34,65.4 46.84,64.84 47.34,64.16 47.84,63.35 48.34,63.32 48.84,62.87 49.34,61.33 49.84,59.85 50.34,59.44 50.84,59.28 51.34,58.21 51.84,56.6 52.34,54.77 52.84,54.58 53.34,55.51 53.84,55.63 54.34,54.32 54.84,51.17 55.34,49.25 55.84,48.99 56.34,48.74 56.84,47.98 57.34,45.85 57.84,44.51 58.34,43.27 58.84,40.2 59.34,39.86 59.84,42.97 60.34,45.11 60.84,45.59 61.34,44.4 61.84,42.97 62.34,43.94 62.84,45.8 63.34,46.78 63.84,47.72 64.34,50.28 64.84,53.54 65.34,55.4 65.84,56.18 66.34,57.62 66.84,59.44 67.34,60.94 67.84,61.89 68.34,62.8 68.84,64.3 69.34,65.73 69.84,66.78 70.34,67.45 70.84,67.94 71.34,68.57 71.84,69.35 72.34,69.77 72.84,69.8 73.34,70.08 73.84,70.52 74.34,70.64 74.84,70.39 75.34,70.34 75.84,70.65 76.34,70.71 76.84,70.63 77.34,70.57 77.84,70.6 78.34,70.66 78.84,70.74 79.34,70.95 79.84,71.02 80.34,71.05 80.84,71.07 81.34,71.01 81.84,70.94 82.34,70.84 82.84,70.89 83.34,71.16 83.84,71.29 84.34,70.99 84.84,70.51 85.34,70.48 85.84,70.92 86.34,71.16 86.84,70.99 87.34,70.76 87.84,70.73 88.34,70.81 88.84,71.01 89.34,71.24 89.84,71.11 90.34,70.9 90.84,71.14 91.34,71.31 91.84,71 92.34,70.87 92.84,71.06 93.34,71.21 93.84,71.28 94.34,71.23 94.84,71.25 95.34,71.39 95.84,71.45 96.34,71.42 96.84,71.49 97.34,71.35 97.84,71.11 98.34,71.27 98.84,71.28 99.34,71.27 99.84,71.42 L99.84,72.1Z" fill="#111"/>
<polyline points="5.42,70.6 5.92,70.52 6.42,70.32 6.92,70 7.42,69.58 7.92,69.08 8.42,68.52 8.92,67.92 9.42,67.29 9.92,66.63 10.42,65.8 10.92,64.79 11.42,63.63 11.92,62.31 12.42,60.86 12.92,59.27 13.42,57.28 13.92,54.86 14.42,52.17 14.92,49.36 15.42,46.57 15.92,43.43 16.42,40.02 16.92,36.84 17.42,34.4 17.92,32.83 18.42,31.59 18.92,30.5 19.42,29.34 19.92,28.14 20.42,27.96 20.92,29.09 21.42,30.93 21.92,33.01 22.42,35.87 22.92,39.28 23.42,42.79 23.92,46.5 24.42,50.45 24.92,54.19 25.42,57.5 25.92,60.65 26.42,63.22 26.92,64.98 27.42,66.41 27.92,67.6 28.42,68.62 28.92,69.52 29.42,70.31 29.92,70.96" fill="none" stroke="#111" stroke-width="1.3" stroke-dasharray="2.4 1.5"/>
<rect x="0" y="0" width="100" height="72.1" fill="none" stroke="#111" stroke-width="1.6"/>
<path d="M-4.4,72.1H0 M-2.9,69.22H0 M-2.9,66.33H0 M-2.9,63.45H0 M-2.9,60.56H0 M-4.4,57.68H0 M-2.9,54.8H0 M-2.9,51.91H0 M-2.9,49.03H0 M-2.9,46.14H0 M-4.4,43.26H0 M-2.9,40.38H0 M-2.9,37.49H0 M-2.9,34.61H0 M-2.9,31.72H0 M-4.4,28.84H0 M-2.9,25.96H0 M-2.9,23.07H0 M-2.9,20.19H0 M-2.9,17.3H0 M-4.4,14.42H0 M-2.9,11.54H0 M-2.9,8.65H0 M-2.9,5.77H0 M-2.9,2.88H0 M-4.4,0H0" stroke="#111" stroke-width="1.3"/>
<path d="M0,72.1V77.1 M7.53,72.1V75.1 M11.93,72.1V75.1 M15.05,72.1V75.1 M17.47,72.1V75.1 M19.45,72.1V75.1 M21.13,72.1V75.1 M22.58,72.1V75.1 M23.86,72.1V75.1 M25,72.1V77.1 M32.53,72.1V75.1 M36.93,72.1V75.1 M40.05,72.1V75.1 M42.47,72.1V75.1 M44.45,72.1V75.1 M46.13,72.1V75.1 M47.58,72.1V75.1 M48.86,72.1V75.1 M50,72.1V77.1 M57.53,72.1V75.1 M61.93,72.1V75.1 M65.05,72.1V75.1 M67.47,72.1V75.1 M69.45,72.1V75.1 M71.13,72.1V75.1 M72.58,72.1V75.1 M73.86,72.1V75.1 M75,72.1V77.1 M82.53,72.1V75.1 M86.93,72.1V75.1 M90.05,72.1V75.1 M92.47,72.1V75.1 M94.45,72.1V75.1 M96.13,72.1V75.1 M97.58,72.1V75.1 M98.86,72.1V75.1 M100,72.1V77.1" stroke="#111" stroke-width="1.3"/>
<text class="yl" transform="translate(-7.2,-1) rotate(-90)" text-anchor="middle">200</text>
<text class="yl" transform="translate(-7.2,70.6) rotate(-90)" text-anchor="middle">0</text>
<text class="xl" x="1" y="87.4" text-anchor="middle">10<tspan class="sup" dy="-3.9">0</tspan></text>
<text class="xl" x="25.3" y="87.4" text-anchor="middle">10<tspan class="sup" dy="-3.9">1</tspan></text>
<text class="xl" x="50.3" y="87.4" text-anchor="middle">10<tspan class="sup" dy="-3.9">2</tspan></text>
<text class="xl" x="75.1" y="87.4" text-anchor="middle">10<tspan class="sup" dy="-3.9">3</tspan></text>
<text class="xl" x="98.7" y="87.4" text-anchor="middle">10<tspan class="sup" dy="-3.9">4</tspan></text>
</g>
<g transform="translate(409.8,570.6)">
<path d="M-0.36,72.1 L-0.36,69.75 0.14,69.77 0.64,69.86 1.14,70.09 1.64,70.23 2.14,70.1 2.64,70.01 3.14,70.09 3.64,70.09 4.14,70.15 4.64,70.11 5.14,70.09 5.64,70.08 6.14,69.83 6.64,69.68 7.14,69.68 7.64,69.53 8.14,69.54 8.64,69.98 9.14,70.23 9.64,70.04 10.14,69.77 10.64,69.84 11.14,70.19 11.64,70.25 12.14,70.15 12.64,70.12 13.14,69.92 13.64,69.72 14.14,69.53 14.64,69.42 15.14,69.54 15.64,69.66 16.14,69.85 16.64,70.02 17.14,69.97 17.64,69.9 18.14,69.86 18.64,69.98 19.14,70.08 19.64,70.1 20.14,70.22 20.64,70.1 21.14,69.88 21.64,69.62 22.14,69.3 22.64,69.56 23.14,70.1 23.64,70.27 24.14,70.23 24.64,70.02 25.14,69.78 25.64,69.73 26.14,69.69 26.64,69.69 27.14,69.73 27.64,69.67 28.14,69.71 28.64,69.7 29.14,69.45 29.64,69.48 30.14,69.63 30.64,69.44 31.14,69.46 31.64,69.67 32.14,69.58 32.64,69.3 33.14,69.31 33.64,69.6 34.14,69.63 34.64,69.55 35.14,69.73 35.64,69.84 36.14,69.65 36.64,69.47 37.14,69.63 37.64,69.65 38.14,69.37 38.64,69.19 39.14,69.17 39.64,69.47 40.14,69.65 40.64,69.4 41.14,69.35 41.64,69.49 42.14,69.57 42.64,69.54 43.14,69.25 43.64,69.01 44.14,69.03 44.64,69.1 45.14,69.06 45.64,68.93 46.14,69.08 46.64,69.33 47.14,69.05 47.64,68.87 48.14,68.97 48.64,68.52 49.14,67.95 49.64,67.87 50.14,67.75 50.64,67.13 51.14,66.25 51.64,65.58 52.14,65.45 52.64,65.74 53.14,65.1 53.64,63.21 54.14,61.72 54.64,61.2 55.14,60.96 55.64,60.32 56.14,59.18 56.64,58.53 57.14,57.97 57.64,55.93 58.14,54.1 58.64,53.65 59.14,52.17 59.64,51.21 60.14,52.07 60.64,51.94 61.14,50.23 61.64,48.08 62.14,46.98 62.64,47.44 63.14,47.82 63.64,47.43 64.14,46.83 64.64,46.61 65.14,46.81 65.64,46.5 66.14,45.79 66.64,44.57 67.14,43.55 67.64,44.8 68.14,47.53 68.64,49.09 69.14,50.23 69.64,51.74 70.14,52.74 70.64,54.18 71.14,55.89 71.64,57.42 72.14,58.16 72.64,58.13 73.14,59.33 73.64,61.67 74.14,63.49 74.64,64.03 75.14,64.65 75.64,66.28 76.14,67.66 76.64,68.34 77.14,68.97 77.64,69.33 78.14,69.11 78.64,69.15 79.14,69.48 79.64,69.72 80.14,69.93 80.64,70.01 81.14,70.02 81.64,70.04 82.14,69.82 82.64,69.85 83.14,70.47 83.64,70.71 84.14,70.46 84.64,70.22 85.14,70 85.64,69.94 86.14,70.13 86.64,70.21 87.14,70.12 87.64,70.2 88.14,70.35 88.64,70.52 89.14,70.63 89.64,70.6 90.14,70.74 90.64,70.91 91.14,70.91 91.64,70.7 92.14,70.27 92.64,69.86 93.14,69.89 93.64,70.31 94.14,70.64 94.64,70.58 95.14,70.28 95.64,70.35 96.14,70.67 96.64,70.52 97.14,70.14 97.64,70.16 98.14,70.58 98.64,70.88 99.14,70.99 L99.14,72.1Z" fill="#111"/>
<polyline points="4.72,69.9 5.22,69.76 5.72,69.54 6.22,69.23 6.72,68.86 7.22,68.42 7.72,67.93 8.22,67.4 8.72,66.82 9.22,66.22 9.72,65.6 10.22,64.97 10.72,64.25 11.22,63.43 11.72,62.48 12.22,61.41 12.72,60.18 13.22,58.78 13.72,56.86 14.22,54.37 14.72,51.57 15.22,48.73 15.72,45.85 16.22,42.69 16.72,39.52 17.22,36.61 17.72,34.05 18.22,31.58 18.72,29.68 19.22,28.62 19.72,27.84 20.22,27.58 20.72,28.47 21.22,30.4 21.72,32.87 22.22,37.29 22.72,42.11 23.22,45.89 23.72,49.39 24.22,52.81 24.72,56.36 25.22,59.7 25.72,62.43 26.22,64.93 26.72,66.84 27.22,67.87 27.72,68.56 28.22,69.09 28.72,69.57 29.22,70.08 29.72,70.58" fill="none" stroke="#111" stroke-width="1.3" stroke-dasharray="2.4 1.5"/>
<rect x="0" y="0" width="100" height="72.1" fill="none" stroke="#111" stroke-width="1.6"/>
<path d="M-4.4,72.1H0 M-2.9,69.22H0 M-2.9,66.33H0 M-2.9,63.45H0 M-2.9,60.56H0 M-4.4,57.68H0 M-2.9,54.8H0 M-2.9,51.91H0 M-2.9,49.03H0 M-2.9,46.14H0 M-4.4,43.26H0 M-2.9,40.38H0 M-2.9,37.49H0 M-2.9,34.61H0 M-2.9,31.72H0 M-4.4,28.84H0 M-2.9,25.96H0 M-2.9,23.07H0 M-2.9,20.19H0 M-2.9,17.3H0 M-4.4,14.42H0 M-2.9,11.54H0 M-2.9,8.65H0 M-2.9,5.77H0 M-2.9,2.88H0 M-4.4,0H0" stroke="#111" stroke-width="1.3"/>
<path d="M0,72.1V77.1 M7.53,72.1V75.1 M11.93,72.1V75.1 M15.05,72.1V75.1 M17.47,72.1V75.1 M19.45,72.1V75.1 M21.13,72.1V75.1 M22.58,72.1V75.1 M23.86,72.1V75.1 M25,72.1V77.1 M32.53,72.1V75.1 M36.93,72.1V75.1 M40.05,72.1V75.1 M42.47,72.1V75.1 M44.45,72.1V75.1 M46.13,72.1V75.1 M47.58,72.1V75.1 M48.86,72.1V75.1 M50,72.1V77.1 M57.53,72.1V75.1 M61.93,72.1V75.1 M65.05,72.1V75.1 M67.47,72.1V75.1 M69.45,72.1V75.1 M71.13,72.1V75.1 M72.58,72.1V75.1 M73.86,72.1V75.1 M75,72.1V77.1 M82.53,72.1V75.1 M86.93,72.1V75.1 M90.05,72.1V75.1 M92.47,72.1V75.1 M94.45,72.1V75.1 M96.13,72.1V75.1 M97.58,72.1V75.1 M98.86,72.1V75.1 M100,72.1V77.1" stroke="#111" stroke-width="1.3"/>
<text class="yl" transform="translate(-7.2,-1) rotate(-90)" text-anchor="middle">200</text>
<text class="yl" transform="translate(-7.2,70.6) rotate(-90)" text-anchor="middle">0</text>
<text class="xl" x="1" y="87.4" text-anchor="middle">10<tspan class="sup" dy="-3.9">0</tspan></text>
<text class="xl" x="25.3" y="87.4" text-anchor="middle">10<tspan class="sup" dy="-3.9">1</tspan></text>
<text class="xl" x="50.3" y="87.4" text-anchor="middle">10<tspan class="sup" dy="-3.9">2</tspan></text>
<text class="xl" x="75.1" y="87.4" text-anchor="middle">10<tspan class="sup" dy="-3.9">3</tspan></text>
<text class="xl" x="98.7" y="87.4" text-anchor="middle">10<tspan class="sup" dy="-3.9">4</tspan></text>
</g>
<g transform="translate(118,673.9)">
<path d="M0.44,72.1 L0.44,70.64 0.94,70.29 1.44,70.23 1.94,70.72 2.44,70.89 2.94,70.73 3.44,70.52 3.94,70.28 4.44,70.22 4.94,70.56 5.44,70.92 5.94,70.71 6.44,70.44 6.94,70.62 7.44,70.79 7.94,70.72 8.44,70.63 8.94,70.57 9.44,70.32 9.94,70.07 10.44,70.21 10.94,70.5 11.44,70.72 11.94,70.77 12.44,70.55 12.94,70.29 13.44,70.32 13.94,70.42 14.44,70.08 14.94,69.68 15.44,69.96 15.94,70.41 16.44,70.28 16.94,70.13 17.44,70.34 17.94,70.35 18.44,70.18 18.94,70.28 19.44,70.31 19.94,70.06 20.44,70.01 20.94,70 21.44,69.78 21.94,69.42 22.44,68.95 22.94,68.58 23.44,68.58 23.94,68.81 24.44,68.97 24.94,69.07 25.44,69.03 25.94,68.64 26.44,68.21 26.94,68.29 27.44,68.38 27.94,67.92 28.44,67.49 28.94,67.7 29.44,68.19 29.94,68.37 30.44,68.09 30.94,67.41 31.44,67.23 31.94,67.67 32.44,67.37 32.94,66.51 33.44,66.07 33.94,66.15 34.44,66.3 34.94,66.08 35.44,65.79 35.94,65.65 36.44,65.74 36.94,65.54 37.44,65.25 37.94,64.95 38.44,63.89 38.94,62.83 39.44,61.93 39.94,61.3 40.44,61.65 40.94,61.9 41.44,62.08 41.94,62.98 42.44,63.86 42.94,63.82 43.44,63.1 43.94,62.39 44.44,62.63 44.94,63.37 45.44,63.63 45.94,63.3 46.44,62.67 46.94,62.74 47.44,63.71 47.94,64.43 48.44,64.03 48.94,62.83 49.44,62.73 49.94,63.8 50.44,64.09 50.94,63.31 51.44,62.21 51.94,62.25 52.44,62.72 52.94,62.19 53.44,61.39 53.94,60.69 54.44,60.68 54.94,60.67 55.44,60.28 55.94,59.93 56.44,59.15 56.94,58.91 57.44,58.99 57.94,59.12 58.44,59.55 58.94,59.12 59.44,59.11 59.94,60.11 60.44,60.97 60.94,60.77 61.44,59.41 61.94,59.79 62.44,60.86 62.94,60.34 63.44,60.25 63.94,59.88 64.44,59.38 64.94,59.86 65.44,59.81 65.94,59.26 66.44,59.33 66.94,60.5 67.44,61.57 67.94,61.55 68.44,62.2 68.94,63.02 69.44,63.16 69.94,63.26 70.44,62.81 70.94,62.36 71.44,62.4 71.94,62.49 72.44,62.86 72.94,63.39 73.44,63.77 73.94,64.42 74.44,64.9 74.94,64.81 75.44,64.69 75.94,64.77 76.44,65.07 76.94,65.33 77.44,65.49 77.94,65.99 78.44,66.82 78.94,67.82 79.44,68.71 79.94,68.88 80.44,68.93 80.94,69.41 81.44,69.54 81.94,69.41 82.44,69.57 82.94,69.7 83.44,69.88 83.94,70.3 84.44,70.6 84.94,70.56 85.44,70.52 85.94,70.62 86.44,70.64 86.94,70.45 87.44,70.38 87.94,70.56 88.44,70.6 88.94,70.48 89.44,70.49 89.94,70.76 90.44,71.06 90.94,71.07 91.44,70.98 91.94,71.13 92.44,71.21 92.94,70.93 93.44,70.96 93.94,71.27 94.44,71.25 94.94,71.07 95.44,70.92 95.94,71.06 96.44,71.36 96.94,71.33 97.44,71.28 97.94,71.29 98.44,71.21 98.94,71.3 99.44,71.32 99.94,71.24 L99.94,72.1Z" fill="#111"/>
<polyline points="8.69,70.6 9.19,70.52 9.69,70.3 10.19,69.95 10.69,69.49 11.19,68.94 11.69,68.3 12.19,67.39 12.69,65.71 13.19,63.48 13.69,61.01 14.19,58.52 14.69,55.61 15.19,52.42 15.69,49.25 16.19,46.37 16.69,43.67 17.19,41.06 17.69,38.61 18.19,36.39 18.69,34.36 19.19,32.5 19.69,31.02 20.19,29.74 20.69,28.59 21.19,27.91 21.69,28.09 22.19,29.34 22.69,31.33 23.19,33.79 23.69,38.16 24.19,43.21 24.69,48.33 25.19,53.24 25.69,57.74 26.19,61.4 26.69,63.64 27.19,65.33 27.69,66.88 28.19,68.57 28.69,69.99 29.19,70.82 29.69,71.37" fill="none" stroke="#111" stroke-width="1.3" stroke-dasharray="2.4 1.5"/>
<rect x="0" y="0" width="100" height="72.1" fill="none" stroke="#111" stroke-width="1.6"/>
<path d="M-4.4,72.1H0 M-2.9,69.22H0 M-2.9,66.33H0 M-2.9,63.45H0 M-2.9,60.56H0 M-4.4,57.68H0 M-2.9,54.8H0 M-2.9,51.91H0 M-2.9,49.03H0 M-2.9,46.14H0 M-4.4,43.26H0 M-2.9,40.38H0 M-2.9,37.49H0 M-2.9,34.61H0 M-2.9,31.72H0 M-4.4,28.84H0 M-2.9,25.96H0 M-2.9,23.07H0 M-2.9,20.19H0 M-2.9,17.3H0 M-4.4,14.42H0 M-2.9,11.54H0 M-2.9,8.65H0 M-2.9,5.77H0 M-2.9,2.88H0 M-4.4,0H0" stroke="#111" stroke-width="1.3"/>
<path d="M0,72.1V77.1 M7.53,72.1V75.1 M11.93,72.1V75.1 M15.05,72.1V75.1 M17.47,72.1V75.1 M19.45,72.1V75.1 M21.13,72.1V75.1 M22.58,72.1V75.1 M23.86,72.1V75.1 M25,72.1V77.1 M32.53,72.1V75.1 M36.93,72.1V75.1 M40.05,72.1V75.1 M42.47,72.1V75.1 M44.45,72.1V75.1 M46.13,72.1V75.1 M47.58,72.1V75.1 M48.86,72.1V75.1 M50,72.1V77.1 M57.53,72.1V75.1 M61.93,72.1V75.1 M65.05,72.1V75.1 M67.47,72.1V75.1 M69.45,72.1V75.1 M71.13,72.1V75.1 M72.58,72.1V75.1 M73.86,72.1V75.1 M75,72.1V77.1 M82.53,72.1V75.1 M86.93,72.1V75.1 M90.05,72.1V75.1 M92.47,72.1V75.1 M94.45,72.1V75.1 M96.13,72.1V75.1 M97.58,72.1V75.1 M98.86,72.1V75.1 M100,72.1V77.1" stroke="#111" stroke-width="1.3"/>
<text class="yl" transform="translate(-7.2,-1) rotate(-90)" text-anchor="middle">200</text>
<text class="yl" transform="translate(-7.2,70.6) rotate(-90)" text-anchor="middle">0</text>
<text class="xl" x="1" y="87.4" text-anchor="middle">10<tspan class="sup" dy="-3.9">0</tspan></text>
<text class="xl" x="25.3" y="87.4" text-anchor="middle">10<tspan class="sup" dy="-3.9">1</tspan></text>
<text class="xl" x="50.3" y="87.4" text-anchor="middle">10<tspan class="sup" dy="-3.9">2</tspan></text>
<text class="xl" x="75.1" y="87.4" text-anchor="middle">10<tspan class="sup" dy="-3.9">3</tspan></text>
<text class="xl" x="98.7" y="87.4" text-anchor="middle">10<tspan class="sup" dy="-3.9">4</tspan></text>
</g>
<g transform="translate(263.8,674)">
<path d="M0.64,72.1 L0.64,70.64 1.14,70.72 1.64,70.7 2.14,70.54 2.64,70.24 3.14,70.15 3.64,70.26 4.14,70.26 4.64,70.46 5.14,70.77 5.64,70.77 6.14,70.52 6.64,70.39 7.14,70.27 7.64,70.04 8.14,70.32 8.64,70.78 9.14,70.77 9.64,70.44 10.14,70.16 10.64,70.17 11.14,70.33 11.64,70.5 12.14,70.56 12.64,70.58 13.14,70.56 13.64,70.24 14.14,70.17 14.64,70.34 15.14,70.1 15.64,70.18 16.14,70.49 16.64,70.34 17.14,70.2 17.64,70.45 18.14,70.76 18.64,70.57 19.14,70.18 19.64,70.06 20.14,69.96 20.64,69.91 21.14,70.09 21.64,70.2 22.14,70.23 22.64,70.2 23.14,70.24 23.64,70.6 24.14,70.74 24.64,70.6 25.14,70.47 25.64,70.17 26.14,70.15 26.64,70.31 27.14,70.19 27.64,70.18 28.14,70.46 28.64,70.55 29.14,70.18 29.64,69.74 30.14,69.72 30.64,69.99 31.14,70.3 31.64,70.43 32.14,70.18 32.64,70.07 33.14,70.27 33.64,70.33 34.14,70.37 34.64,70.4 35.14,70.39 35.64,70.38 36.14,70.15 36.64,69.99 37.14,70.09 37.64,70.24 38.14,70.14 38.64,69.92 39.14,69.89 39.64,70.08 40.14,70.23 40.64,69.89 41.14,69.5 41.64,69.64 42.14,69.88 42.64,69.74 43.14,69.37 43.64,69.06 44.14,68.98 44.64,69.14 45.14,69.18 45.64,68.76 46.14,68.2 46.64,68.14 47.14,68.35 47.64,68.33 48.14,67.86 48.64,67.3 49.14,67 49.64,66.86 50.14,66.38 50.64,64.73 51.14,62.95 51.64,62.71 52.14,62.94 52.64,62.16 53.14,61.01 53.64,60.2 54.14,59.15 54.64,57.67 55.14,55.78 55.64,53.81 56.14,52.44 56.64,50.69 57.14,49.5 57.64,48.35 58.14,46.03 58.64,46.02 59.14,46.68 59.64,44.84 60.14,43.37 60.64,43.3 61.14,42.04 61.64,39.79 62.14,38.87 62.64,39.7 63.14,41.75 63.64,43.33 64.14,43.86 64.64,44.93 65.14,46.55 65.64,48.82 66.14,51.27 66.64,53.89 67.14,56.7 67.64,58.54 68.14,60.31 68.64,61.57 69.14,62.49 69.64,64.32 70.14,65.52 70.64,65.94 71.14,66.77 71.64,67.66 72.14,68.16 72.64,68.38 73.14,68.53 73.64,69.02 74.14,69.49 74.64,69.44 75.14,69.55 75.64,69.85 76.14,69.82 76.64,69.76 77.14,70.07 77.64,70.42 78.14,70.5 78.64,70.44 79.14,70.46 79.64,70.66 80.14,70.77 80.64,70.58 81.14,70.39 81.64,70.46 82.14,70.7 82.64,70.76 83.14,70.82 83.64,71.08 84.14,71.05 84.64,71.01 85.14,70.98 85.64,70.82 86.14,70.84 86.64,70.85 87.14,70.81 87.64,70.79 88.14,70.64 88.64,70.64 89.14,70.83 89.64,71.01 90.14,71.01 90.64,70.67 91.14,70.54 91.64,70.81 92.14,70.99 92.64,71 93.14,71.12 93.64,71.26 94.14,71.06 94.64,70.85 95.14,71.02 95.64,71.15 96.14,71.29 96.64,71.5 97.14,71.5 97.64,71.12 98.14,70.9 98.64,70.87 99.14,70.77 99.64,70.76 100.14,70.91 L100.14,72.1Z" fill="#111"/>
<polyline points="5.72,70.5 6.22,70.47 6.72,70.39 7.22,70.26 7.72,70.09 8.22,69.87 8.72,69.61 9.22,69.31 9.72,68.97 10.22,68.6 10.72,68.2 11.22,67.74 11.72,66.94 12.22,65.81 12.72,64.42 13.22,62.84 13.72,61.12 14.22,59.35 14.72,57.28 15.22,54.81 15.72,52.1 16.22,49.33 16.72,46.39 17.22,43.09 17.72,39.84 18.22,37.07 18.72,35.01 19.22,33.29 19.72,31.84 20.22,30.66 20.72,29.52 21.22,28.51 21.72,27.86 22.22,27.84 22.72,28.71 23.22,30.23 23.72,32.05 24.22,34.88 24.72,38.8 25.22,42.86 25.72,47.02 26.22,51.29 26.72,55.29 27.22,59.32 27.72,62.7 28.22,64.85 28.72,66.54 29.22,67.92 29.72,69.04 30.22,69.95 30.72,70.7 31.22,71.26" fill="none" stroke="#111" stroke-width="1.3" stroke-dasharray="2.4 1.5"/>
<rect x="0" y="0" width="100" height="72.1" fill="none" stroke="#111" stroke-width="1.6"/>
<path d="M-4.4,72.1H0 M-2.9,69.22H0 M-2.9,66.33H0 M-2.9,63.45H0 M-2.9,60.56H0 M-4.4,57.68H0 M-2.9,54.8H0 M-2.9,51.91H0 M-2.9,49.03H0 M-2.9,46.14H0 M-4.4,43.26H0 M-2.9,40.38H0 M-2.9,37.49H0 M-2.9,34.61H0 M-2.9,31.72H0 M-4.4,28.84H0 M-2.9,25.96H0 M-2.9,23.07H0 M-2.9,20.19H0 M-2.9,17.3H0 M-4.4,14.42H0 M-2.9,11.54H0 M-2.9,8.65H0 M-2.9,5.77H0 M-2.9,2.88H0 M-4.4,0H0" stroke="#111" stroke-width="1.3"/>
<path d="M0,72.1V77.1 M7.53,72.1V75.1 M11.93,72.1V75.1 M15.05,72.1V75.1 M17.47,72.1V75.1 M19.45,72.1V75.1 M21.13,72.1V75.1 M22.58,72.1V75.1 M23.86,72.1V75.1 M25,72.1V77.1 M32.53,72.1V75.1 M36.93,72.1V75.1 M40.05,72.1V75.1 M42.47,72.1V75.1 M44.45,72.1V75.1 M46.13,72.1V75.1 M47.58,72.1V75.1 M48.86,72.1V75.1 M50,72.1V77.1 M57.53,72.1V75.1 M61.93,72.1V75.1 M65.05,72.1V75.1 M67.47,72.1V75.1 M69.45,72.1V75.1 M71.13,72.1V75.1 M72.58,72.1V75.1 M73.86,72.1V75.1 M75,72.1V77.1 M82.53,72.1V75.1 M86.93,72.1V75.1 M90.05,72.1V75.1 M92.47,72.1V75.1 M94.45,72.1V75.1 M96.13,72.1V75.1 M97.58,72.1V75.1 M98.86,72.1V75.1 M100,72.1V77.1" stroke="#111" stroke-width="1.3"/>
<text class="yl" transform="translate(-7.2,-1) rotate(-90)" text-anchor="middle">200</text>
<text class="yl" transform="translate(-7.2,70.6) rotate(-90)" text-anchor="middle">0</text>
<text class="xl" x="1" y="87.4" text-anchor="middle">10<tspan class="sup" dy="-3.9">0</tspan></text>
<text class="xl" x="25.3" y="87.4" text-anchor="middle">10<tspan class="sup" dy="-3.9">1</tspan></text>
<text class="xl" x="50.3" y="87.4" text-anchor="middle">10<tspan class="sup" dy="-3.9">2</tspan></text>
<text class="xl" x="75.1" y="87.4" text-anchor="middle">10<tspan class="sup" dy="-3.9">3</tspan></text>
<text class="xl" x="98.7" y="87.4" text-anchor="middle">10<tspan class="sup" dy="-3.9">4</tspan></text>
</g>
<g transform="translate(410.1,673.5)">
<path d="M-0.66,72.1 L-0.66,71 -0.16,71.05 0.34,70.92 0.84,70.89 1.34,70.82 1.84,70.84 2.34,71.05 2.84,71.24 3.34,71.2 3.84,71.08 4.34,71.04 4.84,71.05 5.34,70.95 5.84,70.66 6.34,70.51 6.84,70.68 7.34,70.86 7.84,70.81 8.34,70.72 8.84,70.7 9.34,70.75 9.84,70.89 10.34,70.94 10.84,70.9 11.34,70.73 11.84,70.44 12.34,70.44 12.84,70.85 13.34,71.04 13.84,70.96 14.34,71.06 14.84,70.95 15.34,70.59 15.84,70.65 16.34,70.99 16.84,71.09 17.34,71.13 17.84,71.18 18.34,70.86 18.84,70.5 19.34,70.55 19.84,70.75 20.34,71.01 20.84,71.16 21.34,70.99 21.84,70.87 22.34,70.7 22.84,70.45 23.34,70.55 23.84,70.68 24.34,70.73 24.84,70.77 25.34,70.52 25.84,70.53 26.34,70.92 26.84,71.02 27.34,70.88 27.84,70.84 28.34,70.92 28.84,70.89 29.34,70.85 29.84,70.82 30.34,70.71 30.84,70.77 31.34,70.81 31.84,70.68 32.34,70.76 32.84,70.95 33.34,70.78 33.84,70.59 34.34,70.82 34.84,70.95 35.34,70.68 35.84,70.43 36.34,70.51 36.84,70.87 37.34,71.04 37.84,70.77 38.34,70.56 38.84,70.55 39.34,70.44 39.84,70.27 40.34,70.3 40.84,70.57 41.34,70.66 41.84,70.23 42.34,69.89 42.84,69.91 43.34,70.05 43.84,70.36 44.34,70.4 44.84,70.15 45.34,70.08 45.84,70.13 46.34,70.26 46.84,70.25 47.34,69.91 47.84,69.8 48.34,69.87 48.84,69.91 49.34,69.95 49.84,69.59 50.34,69.1 50.84,68.87 51.34,68.7 51.84,68.72 52.34,68.64 52.84,67.84 53.34,66.75 53.84,65.87 54.34,65.12 54.84,64.71 55.34,64.39 55.84,63.64 56.34,62.14 56.84,60.43 57.34,59.73 57.84,59 58.34,57.65 58.84,56.53 59.34,55.55 59.84,54.25 60.34,53.63 60.84,53.09 61.34,51.83 61.84,50.24 62.34,49 62.84,49.44 63.34,48.37 63.84,45.48 64.34,44.7 64.84,44.56 65.34,42.96 65.84,42.27 66.34,43.21 66.84,44.47 67.34,45.89 67.84,47.13 68.34,47.71 68.84,48.87 69.34,50.11 69.84,50.71 70.34,51.38 70.84,52.99 71.34,55.11 71.84,56.13 72.34,57.37 72.84,59.75 73.34,61.89 73.84,62.96 74.34,63.55 74.84,64.75 75.34,66.6 75.84,67.77 76.34,68.29 76.84,69 77.34,69.62 77.84,69.76 78.34,70.2 78.84,70.78 79.34,70.92 79.84,71.12 80.34,71.24 80.84,71 81.34,71 81.84,71.05 82.34,70.81 82.84,70.79 83.34,71.12 83.84,71.38 84.34,71.5 84.84,71.5 85.34,71.5 85.84,71.5 86.34,71.5 86.84,71.5 87.34,71.16 87.84,71.25 88.34,71.5 88.84,71.5 89.34,71.5 89.84,71.5 90.34,71.5 90.84,71.5 91.34,71.22 91.84,71.5 92.34,71.5 92.84,71.5 93.34,71.3 93.84,71.31 94.34,71.5 94.84,71.5 95.34,71.5 95.84,71.5 96.34,71.5 96.84,71.5 97.34,71.5 97.84,71.29 98.34,71.33 98.84,71.5 L98.84,72.1Z" fill="#111"/>
<polyline points="4.42,71 4.92,70.98 5.42,70.93 5.92,70.84 6.42,70.73 6.92,70.58 7.42,70.4 7.92,70.19 8.42,69.95 8.92,69.68 9.42,69.39 9.92,69.06 10.42,68.71 10.92,68.32 11.42,67.59 11.92,66.51 12.42,65.13 12.92,63.55 13.42,61.83 13.92,60.06 14.42,58.02 14.92,55.55 15.42,52.85 15.92,50.12 16.42,47.38 16.92,44.4 17.42,41.46 17.92,38.85 18.42,36.82 18.92,35.14 19.42,33.67 19.92,32.33 20.42,30.88 20.92,29.47 21.42,28.48 21.92,28.34 22.42,29.72 22.92,31.95 23.42,34.58 23.92,38.15 24.42,42.25 24.92,46.96 25.42,52.2 25.92,56.81 26.42,60.91 26.92,63.37 27.42,65.25 27.92,66.75 28.42,67.9 28.92,68.7 29.42,69.27 29.92,69.72 30.42,70.14 30.92,70.64 31.42,71.22 31.92,71.84" fill="none" stroke="#111" stroke-width="1.3" stroke-dasharray="2.4 1.5"/>
<rect x="0" y="0" width="100" height="72.1" fill="none" stroke="#111" stroke-width="1.6"/>
<path d="M-4.4,72.1H0 M-2.9,69.22H0 M-2.9,66.33H0 M-2.9,63.45H0 M-2.9,60.56H0 M-4.4,57.68H0 M-2.9,54.8H0 M-2.9,51.91H0 M-2.9,49.03H0 M-2.9,46.14H0 M-4.4,43.26H0 M-2.9,40.38H0 M-2.9,37.49H0 M-2.9,34.61H0 M-2.9,31.72H0 M-4.4,28.84H0 M-2.9,25.96H0 M-2.9,23.07H0 M-2.9,20.19H0 M-2.9,17.3H0 M-4.4,14.42H0 M-2.9,11.54H0 M-2.9,8.65H0 M-2.9,5.77H0 M-2.9,2.88H0 M-4.4,0H0" stroke="#111" stroke-width="1.3"/>
<path d="M0,72.1V77.1 M7.53,72.1V75.1 M11.93,72.1V75.1 M15.05,72.1V75.1 M17.47,72.1V75.1 M19.45,72.1V75.1 M21.13,72.1V75.1 M22.58,72.1V75.1 M23.86,72.1V75.1 M25,72.1V77.1 M32.53,72.1V75.1 M36.93,72.1V75.1 M40.05,72.1V75.1 M42.47,72.1V75.1 M44.45,72.1V75.1 M46.13,72.1V75.1 M47.58,72.1V75.1 M48.86,72.1V75.1 M50,72.1V77.1 M57.53,72.1V75.1 M61.93,72.1V75.1 M65.05,72.1V75.1 M67.47,72.1V75.1 M69.45,72.1V75.1 M71.13,72.1V75.1 M72.58,72.1V75.1 M73.86,72.1V75.1 M75,72.1V77.1 M82.53,72.1V75.1 M86.93,72.1V75.1 M90.05,72.1V75.1 M92.47,72.1V75.1 M94.45,72.1V75.1 M96.13,72.1V75.1 M97.58,72.1V75.1 M98.86,72.1V75.1 M100,72.1V77.1" stroke="#111" stroke-width="1.3"/>
<text class="yl" transform="translate(-7.2,-1) rotate(-90)" text-anchor="middle">200</text>
<text class="yl" transform="translate(-7.2,70.6) rotate(-90)" text-anchor="middle">0</text>
<text class="xl" x="1" y="87.4" text-anchor="middle">10<tspan class="sup" dy="-3.9">0</tspan></text>
<text class="xl" x="25.3" y="87.4" text-anchor="middle">10<tspan class="sup" dy="-3.9">1</tspan></text>
<text class="xl" x="50.3" y="87.4" text-anchor="middle">10<tspan class="sup" dy="-3.9">2</tspan></text>
<text class="xl" x="75.1" y="87.4" text-anchor="middle">10<tspan class="sup" dy="-3.9">3</tspan></text>
<text class="xl" x="98.7" y="87.4" text-anchor="middle">10<tspan class="sup" dy="-3.9">4</tspan></text>
</g>
<g transform="translate(118.4,778)">
<path d="M0.04,72.1 L0.04,70.31 0.54,70.31 1.04,70.52 1.54,70.4 2.04,69.98 2.54,70 3.04,70.11 3.54,70.04 4.04,70.15 4.54,70.4 5.04,70.38 5.54,70.24 6.04,70.3 6.54,70.46 7.04,70.49 7.54,70.44 8.04,70.57 8.54,70.49 9.04,70.07 9.54,70.24 10.04,70.64 10.54,70.28 11.04,70.08 11.54,70.2 12.04,69.98 12.54,69.84 13.04,70.04 13.54,70.05 14.04,69.86 14.54,70 15.04,70.11 15.54,69.88 16.04,69.66 16.54,69.6 17.04,69.42 17.54,69.16 18.04,69.28 18.54,69.42 19.04,69.28 19.54,69.34 20.04,69.61 20.54,69.53 21.04,69.2 21.54,68.96 22.04,68.84 22.54,68.68 23.04,68.56 23.54,68.64 24.04,68.47 24.54,68.15 25.04,68.12 25.54,68.15 26.04,68.11 26.54,67.98 27.04,67.71 27.54,67.38 28.04,67.12 28.54,66.88 29.04,66.59 29.54,66.33 30.04,66.25 30.54,66.37 31.04,66.42 31.54,66.4 32.04,66.36 32.54,66.24 33.04,66.59 33.54,66.95 34.04,66.48 34.54,66.1 35.04,66.3 35.54,66.31 36.04,65.86 36.54,65.39 37.04,65.26 37.54,65.29 38.04,65.13 38.54,64.72 39.04,64.22 39.54,62.94 40.04,61.52 40.54,61.36 41.04,61.77 41.54,62.4 42.04,62.76 42.54,63.15 43.04,63.49 43.54,62.76 44.04,62.77 44.54,63.88 45.04,64.35 45.54,63.55 46.04,63.01 46.54,63.84 47.04,63.83 47.54,63.03 48.04,62.92 48.54,63.15 49.04,63.69 49.54,63.68 50.04,62.78 50.54,62.49 51.04,62.8 51.54,62.39 52.04,62.03 52.54,62.97 53.04,63.48 53.54,62.07 54.04,60.94 54.54,61.07 55.04,61.25 55.54,61.12 56.04,60.77 56.54,60.25 57.04,59.85 57.54,59.86 58.04,59.82 58.54,60.05 59.04,60.64 59.54,60.67 60.04,59.59 60.54,59.37 61.04,59.27 61.54,58.06 62.04,58.04 62.54,58.59 63.04,58.77 63.54,58.65 64.04,58.95 64.54,60.1 65.04,60.81 65.54,60.7 66.04,60.77 66.54,61.66 67.04,63.03 67.54,62.68 68.04,61.29 68.54,61.38 69.04,61.43 69.54,61.01 70.04,61.66 70.54,63.02 71.04,63.76 71.54,63.59 72.04,63.32 72.54,63.3 73.04,63.99 73.54,64.92 74.04,65.19 74.54,65.28 75.04,65.6 75.54,66.06 76.04,66.95 76.54,68.01 77.04,68.15 77.54,67.72 78.04,67.87 78.54,68.39 79.04,68.57 79.54,68.67 80.04,68.75 80.54,68.99 81.04,69.47 81.54,69.56 82.04,69.45 82.54,69.6 83.04,69.75 83.54,69.82 84.04,69.97 84.54,70.08 85.04,70.05 85.54,70.25 86.04,70.55 86.54,70.68 87.04,70.99 87.54,71 88.04,70.75 88.54,70.98 89.04,71.04 89.54,70.96 90.04,71.4 90.54,71.5 91.04,71.34 91.54,71.33 92.04,71.19 92.54,71 93.04,70.89 93.54,70.85 94.04,71 94.54,71.13 95.04,71.1 95.54,71 96.04,70.89 96.54,70.92 97.04,71 97.54,71.15 98.04,71.31 98.54,71.07 99.04,71.01 99.54,71.38 L99.54,72.1Z" fill="#111"/>
<polyline points="9.35,70.5 9.85,70.34 10.35,69.91 10.85,69.24 11.35,68.38 11.85,67.36 12.35,66.25 12.85,64.82 13.35,62.52 13.85,59.69 14.35,56.79 14.85,54.2 15.35,51.66 15.85,49.12 16.35,46.63 16.85,44.22 17.35,41.69 17.85,39.16 18.35,36.91 18.85,35.2 19.35,34.06 19.85,33.17 20.35,32.34 20.85,31.39 21.35,30.28 21.85,29.52 22.35,30 22.85,32.55 23.35,36.03 23.85,41.35 24.35,46.62 24.85,51.69 25.35,56.56 25.85,61.47 26.35,65.25 26.85,67.88 27.35,69.7 27.85,70.89" fill="none" stroke="#111" stroke-width="1.3" stroke-dasharray="2.4 1.5"/>
<rect x="0" y="0" width="100" height="72.1" fill="none" stroke="#111" stroke-width="1.6"/>
<path d="M-4.4,72.1H0 M-2.9,69.22H0 M-2.9,66.33H0 M-2.9,63.45H0 M-2.9,60.56H0 M-4.4,57.68H0 M-2.9,54.8H0 M-2.9,51.91H0 M-2.9,49.03H0 M-2.9,46.14H0 M-4.4,43.26H0 M-2.9,40.38H0 M-2.9,37.49H0 M-2.9,34.61H0 M-2.9,31.72H0 M-4.4,28.84H0 M-2.9,25.96H0 M-2.9,23.07H0 M-2.9,20.19H0 M-2.9,17.3H0 M-4.4,14.42H0 M-2.9,11.54H0 M-2.9,8.65H0 M-2.9,5.77H0 M-2.9,2.88H0 M-4.4,0H0" stroke="#111" stroke-width="1.3"/>
<path d="M0,72.1V77.1 M7.53,72.1V75.1 M11.93,72.1V75.1 M15.05,72.1V75.1 M17.47,72.1V75.1 M19.45,72.1V75.1 M21.13,72.1V75.1 M22.58,72.1V75.1 M23.86,72.1V75.1 M25,72.1V77.1 M32.53,72.1V75.1 M36.93,72.1V75.1 M40.05,72.1V75.1 M42.47,72.1V75.1 M44.45,72.1V75.1 M46.13,72.1V75.1 M47.58,72.1V75.1 M48.86,72.1V75.1 M50,72.1V77.1 M57.53,72.1V75.1 M61.93,72.1V75.1 M65.05,72.1V75.1 M67.47,72.1V75.1 M69.45,72.1V75.1 M71.13,72.1V75.1 M72.58,72.1V75.1 M73.86,72.1V75.1 M75,72.1V77.1 M82.53,72.1V75.1 M86.93,72.1V75.1 M90.05,72.1V75.1 M92.47,72.1V75.1 M94.45,72.1V75.1 M96.13,72.1V75.1 M97.58,72.1V75.1 M98.86,72.1V75.1 M100,72.1V77.1" stroke="#111" stroke-width="1.3"/>
<text class="yl" transform="translate(-7.2,-1) rotate(-90)" text-anchor="middle">200</text>
<text class="yl" transform="translate(-7.2,70.6) rotate(-90)" text-anchor="middle">0</text>
<text class="xl" x="1" y="87.4" text-anchor="middle">10<tspan class="sup" dy="-3.9">0</tspan></text>
<text class="xl" x="25.3" y="87.4" text-anchor="middle">10<tspan class="sup" dy="-3.9">1</tspan></text>
<text class="xl" x="50.3" y="87.4" text-anchor="middle">10<tspan class="sup" dy="-3.9">2</tspan></text>
<text class="xl" x="75.1" y="87.4" text-anchor="middle">10<tspan class="sup" dy="-3.9">3</tspan></text>
<text class="xl" x="98.7" y="87.4" text-anchor="middle">10<tspan class="sup" dy="-3.9">4</tspan></text>
</g>
<g transform="translate(264.4,778)">
<path d="M0.04,72.1 L0.04,70.35 0.54,70.51 1.04,70.51 1.54,70.67 2.04,70.68 2.54,70.44 3.04,70.36 3.54,70.32 4.04,70.48 4.54,70.66 5.04,70.36 5.54,70 6.04,70.09 6.54,70.42 7.04,70.5 7.54,70.54 8.04,70.53 8.54,70.28 9.04,70.32 9.54,70.46 10.04,70.47 10.54,70.48 11.04,70.33 11.54,70.27 12.04,70.27 12.54,70.3 13.04,70.56 13.54,70.75 14.04,70.6 14.54,70.31 15.04,70.37 15.54,70.67 16.04,70.56 16.54,70.13 17.04,70.27 17.54,70.71 18.04,70.79 18.54,70.67 19.04,70.59 19.54,70.58 20.04,70.38 20.54,70.25 21.04,70.24 21.54,70.06 22.04,70.03 22.54,70.21 23.04,70.33 23.54,70.23 24.04,70.08 24.54,70.14 25.04,70.34 25.54,70.47 26.04,70.48 26.54,70.32 27.04,70.04 27.54,70.07 28.04,70.24 28.54,70.16 29.04,70.15 29.54,70.12 30.04,70.11 30.54,70.23 31.04,70.3 31.54,70.37 32.04,70.24 32.54,70.07 33.04,70.19 33.54,70.2 34.04,70.07 34.54,70.11 35.04,70.17 35.54,70.15 36.04,70.24 36.54,70.41 37.04,70.4 37.54,70.39 38.04,70.41 38.54,70.2 39.04,69.93 39.54,69.77 40.04,69.75 40.54,69.84 41.04,69.99 41.54,70.01 42.04,69.81 42.54,69.55 43.04,69.27 43.54,69.2 44.04,69.24 44.54,68.94 45.04,68.53 45.54,68.36 46.04,68.32 46.54,68.23 47.04,67.9 47.54,67.34 48.04,66.73 48.54,66.39 49.04,66.48 49.54,66.04 50.04,64.62 50.54,63.58 51.04,63.3 51.54,62.49 52.04,61.53 52.54,60.58 53.04,59.39 53.54,59.06 54.04,58.81 54.54,58.46 55.04,58.11 55.54,55.61 56.04,52 56.54,49.99 57.04,48.62 57.54,47.68 58.04,47.92 58.54,47.94 59.04,45.68 59.54,42.82 60.04,42.02 60.54,42.1 61.04,41.75 61.54,41.94 62.04,42.16 62.54,42.11 63.04,42.32 63.54,42.61 64.04,44.42 64.54,46.78 65.04,48.42 65.54,50.22 66.04,52.79 66.54,54.73 67.04,55.96 67.54,58.99 68.04,60.45 68.54,59.79 69.04,60.88 69.54,63.05 70.04,64.8 70.54,65.78 71.04,66.36 71.54,66.77 72.04,67.15 72.54,67.84 73.04,68.34 73.54,68.92 74.04,69.46 74.54,69.54 75.04,69.42 75.54,69.45 76.04,69.96 76.54,70.51 77.04,70.69 77.54,70.63 78.04,70.44 78.54,70.42 79.04,70.5 79.54,70.57 80.04,70.64 80.54,70.58 81.04,70.46 81.54,70.54 82.04,70.71 82.54,70.75 83.04,70.77 83.54,70.69 84.04,70.46 84.54,70.45 85.04,70.74 85.54,70.94 86.04,70.81 86.54,70.78 87.04,70.89 87.54,70.94 88.04,71.01 88.54,70.96 89.04,70.93 89.54,71.14 90.04,71.31 90.54,71.35 91.04,71.45 91.54,71.5 92.04,71.5 92.54,71.22 93.04,70.9 93.54,70.83 94.04,70.77 94.54,70.67 95.04,70.87 95.54,71.17 96.04,71.22 96.54,71.04 97.04,71.02 97.54,71.1 98.04,71.17 98.54,71.42 99.04,71.5 99.54,71.04 L99.54,72.1Z" fill="#111"/>
<polyline points="7.23,70.5 7.73,70.46 8.23,70.34 8.73,70.16 9.23,69.9 9.73,69.57 10.23,69.18 10.73,68.73 11.23,68.21 11.73,67.48 12.23,65.85 12.73,63.6 13.23,61.12 13.73,58.8 14.23,56.43 14.73,53.92 15.23,51.33 15.73,48.71 16.23,45.87 16.73,42.86 17.23,40 17.73,37.58 18.23,35.65 18.73,33.94 19.23,32.55 19.73,31.54 20.23,30.62 20.73,29.88 21.23,29.47 21.73,29.62 22.23,30.48 22.73,31.84 23.23,33.6 23.73,37.13 24.23,41.72 24.73,45.86 25.23,49.72 25.73,53.5 26.23,57.11 26.73,60.8 27.23,64.38 27.73,66.84 28.23,68.11 28.73,69.03 29.23,69.77 29.73,70.47 30.23,71.07" fill="none" stroke="#111" stroke-width="1.3" stroke-dasharray="2.4 1.5"/>
<rect x="0" y="0" width="100" height="72.1" fill="none" stroke="#111" stroke-width="1.6"/>
<path d="M-4.4,72.1H0 M-2.9,69.22H0 M-2.9,66.33H0 M-2.9,63.45H0 M-2.9,60.56H0 M-4.4,57.68H0 M-2.9,54.8H0 M-2.9,51.91H0 M-2.9,49.03H0 M-2.9,46.14H0 M-4.4,43.26H0 M-2.9,40.38H0 M-2.9,37.49H0 M-2.9,34.61H0 M-2.9,31.72H0 M-4.4,28.84H0 M-2.9,25.96H0 M-2.9,23.07H0 M-2.9,20.19H0 M-2.9,17.3H0 M-4.4,14.42H0 M-2.9,11.54H0 M-2.9,8.65H0 M-2.9,5.77H0 M-2.9,2.88H0 M-4.4,0H0" stroke="#111" stroke-width="1.3"/>
<path d="M0,72.1V77.1 M7.53,72.1V75.1 M11.93,72.1V75.1 M15.05,72.1V75.1 M17.47,72.1V75.1 M19.45,72.1V75.1 M21.13,72.1V75.1 M22.58,72.1V75.1 M23.86,72.1V75.1 M25,72.1V77.1 M32.53,72.1V75.1 M36.93,72.1V75.1 M40.05,72.1V75.1 M42.47,72.1V75.1 M44.45,72.1V75.1 M46.13,72.1V75.1 M47.58,72.1V75.1 M48.86,72.1V75.1 M50,72.1V77.1 M57.53,72.1V75.1 M61.93,72.1V75.1 M65.05,72.1V75.1 M67.47,72.1V75.1 M69.45,72.1V75.1 M71.13,72.1V75.1 M72.58,72.1V75.1 M73.86,72.1V75.1 M75,72.1V77.1 M82.53,72.1V75.1 M86.93,72.1V75.1 M90.05,72.1V75.1 M92.47,72.1V75.1 M94.45,72.1V75.1 M96.13,72.1V75.1 M97.58,72.1V75.1 M98.86,72.1V75.1 M100,72.1V77.1" stroke="#111" stroke-width="1.3"/>
<text class="yl" transform="translate(-7.2,-1) rotate(-90)" text-anchor="middle">200</text>
<text class="yl" transform="translate(-7.2,70.6) rotate(-90)" text-anchor="middle">0</text>
<text class="xl" x="1" y="87.4" text-anchor="middle">10<tspan class="sup" dy="-3.9">0</tspan></text>
<text class="xl" x="25.3" y="87.4" text-anchor="middle">10<tspan class="sup" dy="-3.9">1</tspan></text>
<text class="xl" x="50.3" y="87.4" text-anchor="middle">10<tspan class="sup" dy="-3.9">2</tspan></text>
<text class="xl" x="75.1" y="87.4" text-anchor="middle">10<tspan class="sup" dy="-3.9">3</tspan></text>
<text class="xl" x="98.7" y="87.4" text-anchor="middle">10<tspan class="sup" dy="-3.9">4</tspan></text>
</g>
<g transform="translate(409.2,778.9)">
<path d="M0.24,72.1 L0.24,69.17 0.74,69.66 1.24,69.81 1.74,69.36 2.24,69.34 2.74,69.62 3.24,69.57 3.74,69.51 4.24,69.63 4.74,69.49 5.24,69.25 5.74,69.51 6.24,69.75 6.74,69.65 7.24,69.77 7.74,69.93 8.24,70.03 8.74,69.88 9.24,69.46 9.74,69.33 10.24,69.55 10.74,69.66 11.24,69.56 11.74,69.82 12.24,69.94 12.74,69.56 13.24,69.44 13.74,69.7 14.24,69.8 14.74,69.64 15.24,69.46 15.74,69.56 16.24,69.65 16.74,69.41 17.24,69.47 17.74,69.81 18.24,69.86 18.74,69.61 19.24,69.21 19.74,69.01 20.24,69.25 20.74,69.48 21.24,69.31 21.74,69.05 22.24,69.15 22.74,69.47 23.24,69.37 23.74,69.14 24.24,69.29 24.74,69.55 25.24,69.62 25.74,69.44 26.24,69.26 26.74,69.47 27.24,69.81 27.74,69.88 28.24,69.79 28.74,69.55 29.24,69.13 29.74,69.06 30.24,69.15 30.74,69.04 31.24,69.06 31.74,69.18 32.24,69.32 32.74,69.23 33.24,68.88 33.74,68.86 34.24,69.09 34.74,69.2 35.24,69.08 35.74,68.89 36.24,69 36.74,69.21 37.24,69.18 37.74,69.2 38.24,69.38 38.74,69.42 39.24,69.41 39.74,69.29 40.24,69.08 40.74,68.95 41.24,68.82 41.74,69.04 42.24,69.36 42.74,69.39 43.24,69.36 43.74,69.07 44.24,69.02 44.74,69.32 45.24,69.31 45.74,69.1 46.24,68.77 46.74,68.77 47.24,69.01 47.74,68.76 48.24,68.38 48.74,68.28 49.24,67.94 49.74,67.17 50.24,66.99 50.74,67.06 51.24,66.61 51.74,66.49 52.24,66.48 52.74,65.63 53.24,64.27 53.74,63.61 54.24,63.66 54.74,63.23 55.24,61.93 55.74,60.45 56.24,59.72 56.74,59 57.24,58.23 57.74,57.14 58.24,56.17 58.74,55.44 59.24,54.06 59.74,53.34 60.24,51.12 60.74,48.84 61.24,48.68 61.74,48.27 62.24,47.26 62.74,46.22 63.24,46.76 63.74,48.14 64.24,48.25 64.74,47.21 65.24,45.36 65.74,45.53 66.24,46.83 66.74,46.28 67.24,46.48 67.74,48.5 68.24,49.89 68.74,49.99 69.24,50.3 69.74,51.94 70.24,54.71 70.74,56.68 71.24,57.53 71.74,58.84 72.24,60.22 72.74,61.11 73.24,62.58 73.74,63.94 74.24,64.75 74.74,65.77 75.24,66.9 75.74,67.71 76.24,68.15 76.74,68.71 77.24,69.18 77.74,69.15 78.24,69.25 78.74,69.74 79.24,69.95 79.74,69.82 80.24,69.81 80.74,69.54 81.24,69.07 81.74,69.13 82.24,69.62 82.74,69.71 83.24,69.47 83.74,69.5 84.24,69.48 84.74,69.64 85.24,70.09 85.74,70.16 86.24,69.92 86.74,69.92 87.24,70.23 87.74,70.4 88.24,70.24 88.74,70.16 89.24,70.27 89.74,70.38 90.24,70.38 90.74,70.27 91.24,70.08 91.74,69.78 92.24,69.74 92.74,70.07 93.24,70.28 93.74,70.36 94.24,70.32 94.74,70.1 95.24,70.01 95.74,70.21 96.24,70.29 96.74,70.13 97.24,70 97.74,69.9 98.24,69.97 98.74,70.08 99.24,70.09 99.74,70.26 L99.74,72.1Z" fill="#111"/>
<polyline points="5.32,69.6 5.82,69.57 6.32,69.49 6.82,69.36 7.32,69.19 7.82,68.97 8.32,68.71 8.82,68.41 9.32,68.07 9.82,67.7 10.32,67.3 10.82,66.84 11.32,66.04 11.82,64.91 12.32,63.52 12.82,61.94 13.32,60.22 13.82,58.45 14.32,56.33 14.82,53.79 15.32,51.06 15.82,48.4 16.32,45.8 16.82,43.07 17.32,40.45 17.82,38.17 18.32,36.36 18.82,34.79 19.32,33.4 19.82,32.18 20.32,31.08 20.82,29.94 21.32,29.12 21.82,29.09 22.32,30.2 22.82,32.1 23.32,34.34 23.82,37.57 24.32,41.88 24.82,46.21 25.32,50.48 25.82,54.71 26.32,58.49 26.82,62.19 27.32,65.16 27.82,66.87 28.32,68.08 28.82,69.01 29.32,69.72 29.82,70.26" fill="none" stroke="#111" stroke-width="1.3" stroke-dasharray="2.4 1.5"/>
<rect x="0" y="0" width="100" height="72.1" fill="none" stroke="#111" stroke-width="1.6"/>
<path d="M-4.4,72.1H0 M-2.9,69.22H0 M-2.9,66.33H0 M-2.9,63.45H0 M-2.9,60.56H0 M-4.4,57.68H0 M-2.9,54.8H0 M-2.9,51.91H0 M-2.9,49.03H0 M-2.9,46.14H0 M-4.4,43.26H0 M-2.9,40.38H0 M-2.9,37.49H0 M-2.9,34.61H0 M-2.9,31.72H0 M-4.4,28.84H0 M-2.9,25.96H0 M-2.9,23.07H0 M-2.9,20.19H0 M-2.9,17.3H0 M-4.4,14.42H0 M-2.9,11.54H0 M-2.9,8.65H0 M-2.9,5.77H0 M-2.9,2.88H0 M-4.4,0H0" stroke="#111" stroke-width="1.3"/>
<path d="M0,72.1V77.1 M7.53,72.1V75.1 M11.93,72.1V75.1 M15.05,72.1V75.1 M17.47,72.1V75.1 M19.45,72.1V75.1 M21.13,72.1V75.1 M22.58,72.1V75.1 M23.86,72.1V75.1 M25,72.1V77.1 M32.53,72.1V75.1 M36.93,72.1V75.1 M40.05,72.1V75.1 M42.47,72.1V75.1 M44.45,72.1V75.1 M46.13,72.1V75.1 M47.58,72.1V75.1 M48.86,72.1V75.1 M50,72.1V77.1 M57.53,72.1V75.1 M61.93,72.1V75.1 M65.05,72.1V75.1 M67.47,72.1V75.1 M69.45,72.1V75.1 M71.13,72.1V75.1 M72.58,72.1V75.1 M73.86,72.1V75.1 M75,72.1V77.1 M82.53,72.1V75.1 M86.93,72.1V75.1 M90.05,72.1V75.1 M92.47,72.1V75.1 M94.45,72.1V75.1 M96.13,72.1V75.1 M97.58,72.1V75.1 M98.86,72.1V75.1 M100,72.1V77.1" stroke="#111" stroke-width="1.3"/>
<text class="yl" transform="translate(-7.2,-1) rotate(-90)" text-anchor="middle">200</text>
<text class="yl" transform="translate(-7.2,70.6) rotate(-90)" text-anchor="middle">0</text>
<text class="xl" x="1" y="87.4" text-anchor="middle">10<tspan class="sup" dy="-3.9">0</tspan></text>
<text class="xl" x="25.3" y="87.4" text-anchor="middle">10<tspan class="sup" dy="-3.9">1</tspan></text>
<text class="xl" x="50.3" y="87.4" text-anchor="middle">10<tspan class="sup" dy="-3.9">2</tspan></text>
<text class="xl" x="75.1" y="87.4" text-anchor="middle">10<tspan class="sup" dy="-3.9">3</tspan></text>
<text class="xl" x="98.7" y="87.4" text-anchor="middle">10<tspan class="sup" dy="-3.9">4</tspan></text>
</g>
</svg></body></html>
